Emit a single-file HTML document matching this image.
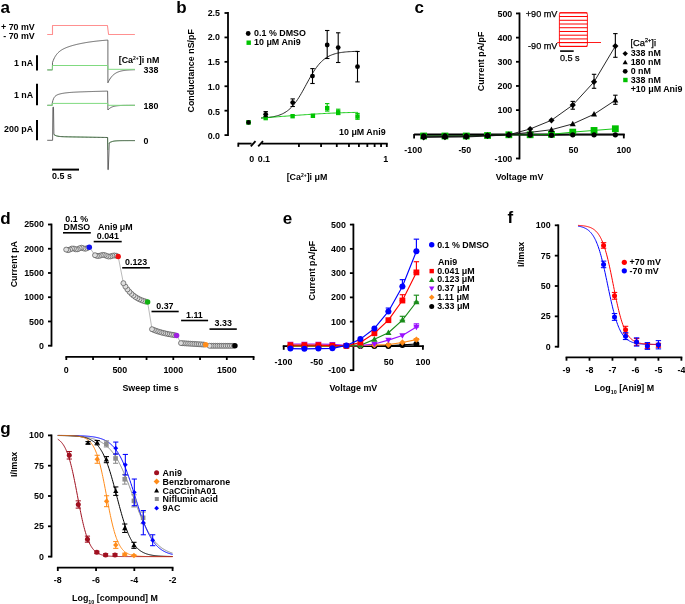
<!DOCTYPE html>
<html><head><meta charset="utf-8"><style>
html,body{margin:0;padding:0;background:#fff;}
svg{display:block;will-change:transform;}
text{font-family:"Liberation Sans", sans-serif;}
</style></head><body>
<svg width="685" height="604" viewBox="0 0 685 604">
<rect width="685" height="604" fill="#fff"/>
<text x="0.50" y="12.60" font-size="17" font-weight="bold" text-anchor="start" fill="#000" >a</text>
<text x="34.80" y="29.80" font-size="8.9" font-weight="bold" text-anchor="end" fill="#000" >+ 70 mV</text>
<text x="34.80" y="38.70" font-size="8.9" font-weight="bold" text-anchor="end" fill="#000" >- 70 mV</text>
<polyline points="47.20,34.50 52.50,34.50 52.50,25.50 107.40,25.50 108.60,34.50 134.90,34.50" fill="none" stroke="#ff9090" stroke-width="1.1" stroke-linejoin="round" />
<line x1="37.00" y1="55.20" x2="37.00" y2="70.50" stroke="#000" stroke-width="2" stroke-linecap="butt"/>
<line x1="37.00" y1="83.80" x2="37.00" y2="105.30" stroke="#000" stroke-width="2" stroke-linecap="butt"/>
<line x1="37.00" y1="119.90" x2="37.00" y2="140.20" stroke="#000" stroke-width="2" stroke-linecap="butt"/>
<line x1="52.10" y1="169.60" x2="79.00" y2="169.60" stroke="#000" stroke-width="2" stroke-linecap="butt"/>
<text x="33.20" y="66.20" font-size="8.9" font-weight="bold" text-anchor="end" fill="#000" >1 nA</text>
<text x="33.20" y="97.70" font-size="8.9" font-weight="bold" text-anchor="end" fill="#000" >1 nA</text>
<text x="33.20" y="132.40" font-size="8.9" font-weight="bold" text-anchor="end" fill="#000" >200 pA</text>
<text x="52.10" y="179.40" font-size="8.9" font-weight="bold" text-anchor="start" fill="#000" >0.5 s</text>
<text x="118.70" y="63.40" font-size="8.9" font-weight="bold" text-anchor="start" fill="#000" >[Ca<tspan font-size="5" dy="-3">2+</tspan><tspan dy="3">]i nM</tspan></text>
<text x="143.60" y="73.10" font-size="8.9" font-weight="bold" text-anchor="start" fill="#000" >338</text>
<text x="143.60" y="109.00" font-size="8.9" font-weight="bold" text-anchor="start" fill="#000" >180</text>
<text x="143.60" y="144.20" font-size="8.9" font-weight="bold" text-anchor="start" fill="#000" >0</text>
<polyline points="47.30,69.90 52.40,69.90 52.50,62.45 53.19,60.61 53.87,59.01 54.56,57.62 55.24,56.41 55.93,55.35 56.62,54.41 57.30,53.58 57.99,52.84 58.68,52.18 59.36,51.58 60.05,51.04 60.73,50.54 61.42,50.08 62.11,49.66 62.79,49.27 63.48,48.91 64.17,48.57 64.85,48.25 65.54,47.95 66.22,47.66 66.91,47.39 67.60,47.12 68.28,46.88 68.97,46.64 69.66,46.41 70.34,46.18 71.03,45.97 71.72,45.76 72.40,45.56 73.09,45.37 73.77,45.18 74.46,45.00 75.15,44.82 75.83,44.65 76.52,44.48 77.20,44.32 77.89,44.16 78.58,44.01 79.26,43.86 79.95,43.71 80.64,43.57 81.32,43.43 82.01,43.30 82.70,43.17 83.38,43.04 84.07,42.91 84.75,42.79 85.44,42.67 86.13,42.56 86.81,42.45 87.50,42.34 88.19,42.23 88.87,42.12 89.56,42.02 90.24,41.92 90.93,41.83 91.62,41.73 92.30,41.64 92.99,41.55 93.68,41.46 94.36,41.38 95.05,41.29 95.73,41.21 96.42,41.13 97.11,41.06 97.79,40.98 98.48,40.91 99.17,40.83 99.85,40.76 100.54,40.70 101.22,40.63 101.91,40.56 102.60,40.50 103.28,40.44 103.97,40.38 104.66,40.32 105.34,40.26 106.03,40.21 106.71,40.15 107.40,40.10 107.90,40.10 107.90,82.80 108.58,81.38 109.26,80.12 109.93,78.99 110.61,77.98 111.29,77.08 111.97,76.28 112.64,75.56 113.32,74.92 114.00,74.35 114.68,73.84 115.35,73.38 116.03,72.98 116.71,72.61 117.39,72.29 118.06,72.00 118.74,71.74 119.42,71.51 120.09,71.31 120.77,71.12 121.45,70.96 122.13,70.81 122.81,70.68 123.48,70.57 124.16,70.46 124.84,70.37 125.52,70.29 126.19,70.21 126.87,70.15 127.55,70.09 128.22,70.04 128.90,69.99 129.58,69.95 130.26,69.91 130.94,69.88 131.61,69.85 132.29,69.82 132.97,69.80 133.65,69.78 134.32,69.76 135.00,69.74" fill="none" stroke="#444" stroke-width="0.8" stroke-linejoin="round" />
<polyline points="47.30,69.90 52.40,69.90 52.40,65.50 107.80,65.50 107.80,69.30 135.00,69.30" fill="none" stroke="#80da80" stroke-width="1.0" stroke-linejoin="round" />
<polyline points="47.30,105.30 52.20,105.30 52.20,103.30 52.89,100.47 53.58,98.60 54.27,97.35 54.96,96.48 55.64,95.84 56.33,95.37 57.02,94.99 57.71,94.68 58.40,94.42 59.09,94.20 59.78,94.00 60.47,93.82 61.15,93.67 61.84,93.52 62.53,93.39 63.22,93.27 63.91,93.16 64.60,93.06 65.29,92.96 65.97,92.88 66.66,92.80 67.35,92.72 68.04,92.65 68.73,92.59 69.42,92.53 70.11,92.47 70.80,92.42 71.48,92.37 72.17,92.32 72.86,92.28 73.55,92.23 74.24,92.19 74.93,92.16 75.62,92.12 76.31,92.08 77.00,92.05 77.68,92.02 78.37,91.99 79.06,91.96 79.75,91.93 80.44,91.90 81.13,91.88 81.82,91.85 82.50,91.83 83.19,91.80 83.88,91.78 84.57,91.76 85.26,91.73 85.95,91.71 86.64,91.69 87.33,91.67 88.02,91.64 88.70,91.62 89.39,91.60 90.08,91.58 90.77,91.56 91.46,91.54 92.15,91.52 92.84,91.50 93.53,91.48 94.21,91.46 94.90,91.44 95.59,91.42 96.28,91.40 96.97,91.38 97.66,91.36 98.35,91.35 99.03,91.33 99.72,91.31 100.41,91.29 101.10,91.27 101.79,91.25 102.48,91.23 103.17,91.21 103.86,91.20 104.54,91.18 105.23,91.16 105.92,91.14 106.61,91.12 107.30,91.10 107.60,91.10 107.90,110.00 108.58,109.28 109.26,108.67 109.93,108.15 110.61,107.71 111.29,107.34 111.97,107.03 112.64,106.76 113.32,106.54 114.00,106.35 114.68,106.19 115.35,106.05 116.03,105.94 116.71,105.84 117.39,105.76 118.06,105.69 118.74,105.63 119.42,105.58 120.09,105.53 120.77,105.50 121.45,105.47 122.13,105.44 122.81,105.42 123.48,105.40 124.16,105.39 124.84,105.37 125.52,105.36 126.19,105.35 126.87,105.34 127.55,105.34 128.22,105.33 128.90,105.33 129.58,105.32 130.26,105.32 130.94,105.32 131.61,105.31 132.29,105.31 132.97,105.31 133.65,105.31 134.32,105.31 135.00,105.31" fill="none" stroke="#444" stroke-width="0.8" stroke-linejoin="round" />
<polyline points="47.30,105.30 52.40,105.30 52.40,103.40 107.80,103.40 107.80,105.30 135.00,105.30" fill="none" stroke="#80da80" stroke-width="1.0" stroke-linejoin="round" />
<polyline points="53.90,134.50 55.23,135.35 56.56,135.87 57.89,136.20 59.22,136.41 60.55,136.54 61.88,136.63 63.21,136.69 64.54,136.74 65.87,136.78 67.20,136.81 68.53,136.84 69.86,136.86 71.19,136.89 72.52,136.91 73.85,136.94 75.18,136.96 76.51,136.98 77.84,137.00 79.17,137.03 80.50,137.05 81.83,137.07 83.16,137.09 84.49,137.12 85.82,137.14 87.15,137.16 88.48,137.18 89.81,137.21 91.14,137.23 92.47,137.25 93.80,137.27 95.13,137.30 96.46,137.32 97.79,137.34 99.12,137.36 100.45,137.39 101.78,137.41 103.11,137.43 104.44,137.45 105.77,137.48 107.10,137.50 107.60,137.50 107.90,150.00" fill="none" stroke="#80da80" stroke-width="1.0" stroke-linejoin="round" />
<polyline points="108.60,143.50 109.26,142.95 109.92,142.51 110.58,142.15 111.24,141.86 111.90,141.62 112.56,141.43 113.22,141.27 113.88,141.15 114.54,141.04 115.20,140.96 115.86,140.89 116.52,140.84 117.18,140.79 117.84,140.76 118.50,140.73 119.16,140.70 119.82,140.68 120.48,140.67 121.14,140.66 121.80,140.64 122.46,140.64 123.12,140.63 123.78,140.62 124.44,140.62 125.10,140.62 125.76,140.61 126.42,140.61 127.08,140.61 127.74,140.61 128.40,140.61 129.06,140.60 129.72,140.60 130.38,140.60 131.04,140.60 131.70,140.60 132.36,140.60 133.02,140.60 133.68,140.60 134.34,140.60 135.00,140.60" fill="none" stroke="#80da80" stroke-width="1.0" stroke-linejoin="round" />
<polyline points="47.20,140.30 52.60,140.30 52.90,107.20 53.50,107.20 53.90,134.50 55.23,135.35 56.56,135.87 57.89,136.20 59.22,136.41 60.55,136.54 61.88,136.63 63.21,136.69 64.54,136.74 65.87,136.78 67.20,136.81 68.53,136.84 69.86,136.86 71.19,136.89 72.52,136.91 73.85,136.94 75.18,136.96 76.51,136.98 77.84,137.00 79.17,137.03 80.50,137.05 81.83,137.07 83.16,137.09 84.49,137.12 85.82,137.14 87.15,137.16 88.48,137.18 89.81,137.21 91.14,137.23 92.47,137.25 93.80,137.27 95.13,137.30 96.46,137.32 97.79,137.34 99.12,137.36 100.45,137.39 101.78,137.41 103.11,137.43 104.44,137.45 105.77,137.48 107.10,137.50 107.60,137.50 107.90,169.60 108.30,169.60 109.26,142.95 109.92,142.51 110.58,142.15 111.24,141.86 111.90,141.62 112.56,141.43 113.22,141.27 113.88,141.15 114.54,141.04 115.20,140.96 115.86,140.89 116.52,140.84 117.18,140.79 117.84,140.76 118.50,140.73 119.16,140.70 119.82,140.68 120.48,140.67 121.14,140.66 121.80,140.64 122.46,140.64 123.12,140.63 123.78,140.62 124.44,140.62 125.10,140.62 125.76,140.61 126.42,140.61 127.08,140.61 127.74,140.61 128.40,140.61 129.06,140.60 129.72,140.60 130.38,140.60 131.04,140.60 131.70,140.60 132.36,140.60 133.02,140.60 133.68,140.60 134.34,140.60 135.00,140.60" fill="none" stroke="#444" stroke-width="0.8" stroke-linejoin="round" />
<text x="176.30" y="12.60" font-size="17" font-weight="bold" text-anchor="start" fill="#000" >b</text>
<line x1="228.00" y1="12.00" x2="228.00" y2="136.00" stroke="#000" stroke-width="1.8" stroke-linecap="butt"/>
<line x1="224.50" y1="135.10" x2="228.00" y2="135.10" stroke="#000" stroke-width="1.8" stroke-linecap="butt"/>
<text x="220.00" y="139.30" font-size="8.9" font-weight="bold" text-anchor="end" fill="#000" >0.0</text>
<line x1="224.50" y1="110.68" x2="228.00" y2="110.68" stroke="#000" stroke-width="1.8" stroke-linecap="butt"/>
<text x="220.00" y="114.56" font-size="8.9" font-weight="bold" text-anchor="end" fill="#000" >0.5</text>
<line x1="224.50" y1="86.26" x2="228.00" y2="86.26" stroke="#000" stroke-width="1.8" stroke-linecap="butt"/>
<text x="220.00" y="89.82" font-size="8.9" font-weight="bold" text-anchor="end" fill="#000" >1.0</text>
<line x1="224.50" y1="61.84" x2="228.00" y2="61.84" stroke="#000" stroke-width="1.8" stroke-linecap="butt"/>
<text x="220.00" y="65.08" font-size="8.9" font-weight="bold" text-anchor="end" fill="#000" >1.5</text>
<line x1="224.50" y1="37.42" x2="228.00" y2="37.42" stroke="#000" stroke-width="1.8" stroke-linecap="butt"/>
<text x="220.00" y="40.34" font-size="8.9" font-weight="bold" text-anchor="end" fill="#000" >2.0</text>
<line x1="224.50" y1="13.00" x2="228.00" y2="13.00" stroke="#000" stroke-width="1.8" stroke-linecap="butt"/>
<text x="220.00" y="15.60" font-size="8.9" font-weight="bold" text-anchor="end" fill="#000" >2.5</text>
<text transform="translate(194.00,70.80) rotate(-90)" font-size="8.9" font-weight="bold" text-anchor="middle" fill="#000">Conductance nS/pF</text>
<line x1="238.30" y1="143.60" x2="251.60" y2="143.60" stroke="#000" stroke-width="1.8" stroke-linecap="butt"/>
<line x1="238.30" y1="142.70" x2="238.30" y2="146.80" stroke="#000" stroke-width="1.8" stroke-linecap="butt"/>
<line x1="250.80" y1="146.40" x2="255.50" y2="141.20" stroke="#000" stroke-width="1.8" stroke-linecap="butt"/>
<line x1="258.20" y1="146.40" x2="263.00" y2="141.20" stroke="#000" stroke-width="1.8" stroke-linecap="butt"/>
<line x1="261.50" y1="143.60" x2="387.70" y2="143.60" stroke="#000" stroke-width="1.8" stroke-linecap="butt"/>
<line x1="298.94" y1="143.60" x2="298.94" y2="147.00" stroke="#000" stroke-width="1.8" stroke-linecap="butt"/>
<line x1="321.07" y1="143.60" x2="321.07" y2="147.00" stroke="#000" stroke-width="1.8" stroke-linecap="butt"/>
<line x1="336.78" y1="143.60" x2="336.78" y2="147.00" stroke="#000" stroke-width="1.8" stroke-linecap="butt"/>
<line x1="348.96" y1="143.60" x2="348.96" y2="147.00" stroke="#000" stroke-width="1.8" stroke-linecap="butt"/>
<line x1="358.91" y1="143.60" x2="358.91" y2="147.00" stroke="#000" stroke-width="1.8" stroke-linecap="butt"/>
<line x1="367.33" y1="143.60" x2="367.33" y2="147.00" stroke="#000" stroke-width="1.8" stroke-linecap="butt"/>
<line x1="374.62" y1="143.60" x2="374.62" y2="147.00" stroke="#000" stroke-width="1.8" stroke-linecap="butt"/>
<line x1="381.05" y1="143.60" x2="381.05" y2="147.00" stroke="#000" stroke-width="1.8" stroke-linecap="butt"/>
<line x1="386.80" y1="143.60" x2="386.80" y2="147.00" stroke="#000" stroke-width="1.8" stroke-linecap="butt"/>
<text x="251.80" y="161.80" font-size="8.9" font-weight="bold" text-anchor="middle" fill="#000" >0</text>
<text x="263.90" y="161.80" font-size="8.9" font-weight="bold" text-anchor="middle" fill="#000" >0.1</text>
<text x="385.60" y="161.80" font-size="8.9" font-weight="bold" text-anchor="middle" fill="#000" >1</text>
<text x="307.00" y="180.40" font-size="8.9" font-weight="bold" text-anchor="middle" fill="#000" >[Ca<tspan font-size="5" dy="-3">2+</tspan><tspan dy="3">]i μM</tspan></text>
<text x="385.60" y="135.30" font-size="8.9" font-weight="bold" text-anchor="end" fill="#000" >10 μM Ani9</text>
<circle cx="248.20" cy="33.50" r="2.4" fill="#000" stroke="none" stroke-width="0"/>
<text x="254.10" y="36.40" font-size="8.9" font-weight="bold" text-anchor="start" fill="#000" >0.1 % DMSO</text>
<rect x="246.50" y="40.50" width="4.4" height="4.4" fill="#00c400"/>
<text x="254.10" y="45.40" font-size="8.9" font-weight="bold" text-anchor="start" fill="#000" >10 μM Ani9</text>
<polyline points="261.10,118.02 262.36,117.95 263.61,117.87 264.87,117.78 266.13,117.67 267.38,117.55 268.64,117.41 269.90,117.26 271.16,117.08 272.41,116.87 273.67,116.64 274.93,116.37 276.18,116.07 277.44,115.72 278.70,115.33 279.96,114.89 281.21,114.39 282.47,113.82 283.73,113.18 284.98,112.46 286.24,111.66 287.50,110.77 288.75,109.77 290.01,108.66 291.27,107.45 292.53,106.11 293.78,104.65 295.04,103.07 296.30,101.37 297.55,99.54 298.81,97.60 300.07,95.56 301.32,93.43 302.58,91.22 303.84,88.95 305.10,86.64 306.35,84.31 307.61,81.99 308.87,79.70 310.12,77.45 311.38,75.27 312.64,73.17 313.89,71.17 315.15,69.28 316.41,67.50 317.67,65.85 318.92,64.32 320.18,62.91 321.44,61.63 322.69,60.46 323.95,59.40 325.21,58.44 326.46,57.59 327.72,56.82 328.98,56.14 330.24,55.53 331.49,54.99 332.75,54.51 334.01,54.09 335.26,53.72 336.52,53.39 337.78,53.10 339.03,52.85 340.29,52.63 341.55,52.44 342.81,52.27 344.06,52.12 345.32,51.99 346.58,51.87 347.83,51.77 349.09,51.69 350.35,51.61 351.60,51.55 352.86,51.49 354.12,51.44 355.38,51.39 356.63,51.35 357.89,51.32" fill="none" stroke="#111" stroke-width="0.9" stroke-linejoin="round" />
<polyline points="261.10,118.01 262.36,117.92 263.61,117.82 264.87,117.73 266.13,117.64 267.38,117.55 268.64,117.45 269.90,117.36 271.16,117.27 272.41,117.17 273.67,117.08 274.93,116.98 276.18,116.89 277.44,116.79 278.70,116.69 279.96,116.60 281.21,116.50 282.47,116.40 283.73,116.31 284.98,116.21 286.24,116.11 287.50,116.02 288.75,115.92 290.01,115.82 291.27,115.73 292.53,115.63 293.78,115.54 295.04,115.44 296.30,115.35 297.55,115.26 298.81,115.16 300.07,115.07 301.32,114.98 302.58,114.89 303.84,114.80 305.10,114.71 306.35,114.62 307.61,114.54 308.87,114.45 310.12,114.37 311.38,114.28 312.64,114.20 313.89,114.12 315.15,114.04 316.41,113.97 317.67,113.89 318.92,113.81 320.18,113.74 321.44,113.67 322.69,113.60 323.95,113.53 325.21,113.47 326.46,113.40 327.72,113.34 328.98,113.28 330.24,113.22 331.49,113.16 332.75,113.10 334.01,113.05 335.26,113.00 336.52,112.95 337.78,112.90 339.03,112.85 340.29,112.81 341.55,112.77 342.81,112.73 344.06,112.69 345.32,112.65 346.58,112.61 347.83,112.58 349.09,112.55 350.35,112.52 351.60,112.49 352.86,112.46 354.12,112.44 355.38,112.41 356.63,112.39 357.89,112.37" fill="none" stroke="#00c400" stroke-width="0.9" stroke-linejoin="round" />
<rect x="263.50" y="115.90" width="4.4" height="4.4" fill="#00c400"/>
<rect x="290.40" y="114.00" width="4.4" height="4.4" fill="#00c400"/>
<rect x="310.70" y="113.60" width="4.4" height="4.4" fill="#00c400"/>
<line x1="327.20" y1="103.60" x2="327.20" y2="111.10" stroke="#00c400" stroke-width="1.1" stroke-linecap="butt"/>
<line x1="325.00" y1="103.60" x2="329.40" y2="103.60" stroke="#00c400" stroke-width="1.1" stroke-linecap="butt"/>
<line x1="325.00" y1="111.10" x2="329.40" y2="111.10" stroke="#00c400" stroke-width="1.1" stroke-linecap="butt"/>
<rect x="325.00" y="105.90" width="4.4" height="4.4" fill="#00c400"/>
<line x1="338.20" y1="109.20" x2="338.20" y2="114.60" stroke="#00c400" stroke-width="1.1" stroke-linecap="butt"/>
<line x1="336.00" y1="109.20" x2="340.40" y2="109.20" stroke="#00c400" stroke-width="1.1" stroke-linecap="butt"/>
<line x1="336.00" y1="114.60" x2="340.40" y2="114.60" stroke="#00c400" stroke-width="1.1" stroke-linecap="butt"/>
<rect x="336.00" y="110.10" width="4.4" height="4.4" fill="#00c400"/>
<line x1="357.50" y1="113.40" x2="357.50" y2="119.30" stroke="#00c400" stroke-width="1.1" stroke-linecap="butt"/>
<line x1="355.30" y1="113.40" x2="359.70" y2="113.40" stroke="#00c400" stroke-width="1.1" stroke-linecap="butt"/>
<line x1="355.30" y1="119.30" x2="359.70" y2="119.30" stroke="#00c400" stroke-width="1.1" stroke-linecap="butt"/>
<rect x="355.30" y="114.30" width="4.4" height="4.4" fill="#00c400"/>
<line x1="265.70" y1="111.60" x2="265.70" y2="116.70" stroke="#000" stroke-width="1.1" stroke-linecap="butt"/>
<line x1="263.50" y1="111.60" x2="267.90" y2="111.60" stroke="#000" stroke-width="1.1" stroke-linecap="butt"/>
<line x1="263.50" y1="116.70" x2="267.90" y2="116.70" stroke="#000" stroke-width="1.1" stroke-linecap="butt"/>
<circle cx="265.70" cy="114.30" r="2.4" fill="#000" stroke="none" stroke-width="0"/>
<line x1="292.70" y1="98.90" x2="292.70" y2="106.50" stroke="#000" stroke-width="1.1" stroke-linecap="butt"/>
<line x1="290.50" y1="98.90" x2="294.90" y2="98.90" stroke="#000" stroke-width="1.1" stroke-linecap="butt"/>
<line x1="290.50" y1="106.50" x2="294.90" y2="106.50" stroke="#000" stroke-width="1.1" stroke-linecap="butt"/>
<circle cx="292.70" cy="102.60" r="2.4" fill="#000" stroke="none" stroke-width="0"/>
<line x1="312.50" y1="68.60" x2="312.50" y2="83.50" stroke="#000" stroke-width="1.1" stroke-linecap="butt"/>
<line x1="310.30" y1="68.60" x2="314.70" y2="68.60" stroke="#000" stroke-width="1.1" stroke-linecap="butt"/>
<line x1="310.30" y1="83.50" x2="314.70" y2="83.50" stroke="#000" stroke-width="1.1" stroke-linecap="butt"/>
<circle cx="312.50" cy="76.10" r="2.4" fill="#000" stroke="none" stroke-width="0"/>
<line x1="327.20" y1="30.50" x2="327.20" y2="58.50" stroke="#000" stroke-width="1.1" stroke-linecap="butt"/>
<line x1="325.00" y1="30.50" x2="329.40" y2="30.50" stroke="#000" stroke-width="1.1" stroke-linecap="butt"/>
<line x1="325.00" y1="58.50" x2="329.40" y2="58.50" stroke="#000" stroke-width="1.1" stroke-linecap="butt"/>
<circle cx="327.20" cy="45.00" r="2.4" fill="#000" stroke="none" stroke-width="0"/>
<line x1="338.20" y1="32.80" x2="338.20" y2="62.50" stroke="#000" stroke-width="1.1" stroke-linecap="butt"/>
<line x1="336.00" y1="32.80" x2="340.40" y2="32.80" stroke="#000" stroke-width="1.1" stroke-linecap="butt"/>
<line x1="336.00" y1="62.50" x2="340.40" y2="62.50" stroke="#000" stroke-width="1.1" stroke-linecap="butt"/>
<circle cx="338.20" cy="47.60" r="2.4" fill="#000" stroke="none" stroke-width="0"/>
<line x1="357.50" y1="51.50" x2="357.50" y2="81.90" stroke="#000" stroke-width="1.1" stroke-linecap="butt"/>
<line x1="355.30" y1="51.50" x2="359.70" y2="51.50" stroke="#000" stroke-width="1.1" stroke-linecap="butt"/>
<line x1="355.30" y1="81.90" x2="359.70" y2="81.90" stroke="#000" stroke-width="1.1" stroke-linecap="butt"/>
<circle cx="357.50" cy="66.70" r="2.4" fill="#000" stroke="none" stroke-width="0"/>
<rect x="246.20" y="120.10" width="4.6" height="4.6" fill="#00c400"/>
<circle cx="248.50" cy="122.40" r="2.3" fill="#000" stroke="none" stroke-width="0"/>
<text x="414.60" y="13.00" font-size="17" font-weight="bold" text-anchor="start" fill="#000" >c</text>
<line x1="519.50" y1="12.55" x2="519.50" y2="159.37" stroke="#000" stroke-width="1.8" stroke-linecap="butt"/>
<line x1="516.00" y1="13.45" x2="519.50" y2="13.45" stroke="#000" stroke-width="1.8" stroke-linecap="butt"/>
<text x="512.30" y="16.55" font-size="8.9" font-weight="bold" text-anchor="end" fill="#000" >500</text>
<line x1="516.00" y1="37.62" x2="519.50" y2="37.62" stroke="#000" stroke-width="1.8" stroke-linecap="butt"/>
<text x="512.30" y="40.72" font-size="8.9" font-weight="bold" text-anchor="end" fill="#000" >400</text>
<line x1="516.00" y1="61.79" x2="519.50" y2="61.79" stroke="#000" stroke-width="1.8" stroke-linecap="butt"/>
<text x="512.30" y="64.89" font-size="8.9" font-weight="bold" text-anchor="end" fill="#000" >300</text>
<line x1="516.00" y1="85.96" x2="519.50" y2="85.96" stroke="#000" stroke-width="1.8" stroke-linecap="butt"/>
<text x="512.30" y="89.06" font-size="8.9" font-weight="bold" text-anchor="end" fill="#000" >200</text>
<line x1="516.00" y1="110.13" x2="519.50" y2="110.13" stroke="#000" stroke-width="1.8" stroke-linecap="butt"/>
<text x="512.30" y="113.23" font-size="8.9" font-weight="bold" text-anchor="end" fill="#000" >100</text>
<line x1="516.00" y1="158.47" x2="519.50" y2="158.47" stroke="#000" stroke-width="1.8" stroke-linecap="butt"/>
<text x="512.30" y="161.57" font-size="8.9" font-weight="bold" text-anchor="end" fill="#000" >-100</text>
<text transform="translate(484.30,61.40) rotate(-90)" font-size="8.9" font-weight="bold" text-anchor="middle" fill="#000">Current pA/pF</text>
<line x1="414.10" y1="134.60" x2="624.70" y2="134.60" stroke="#000" stroke-width="2.0" stroke-linecap="butt"/>
<line x1="414.10" y1="134.00" x2="414.10" y2="138.40" stroke="#000" stroke-width="1.8" stroke-linecap="butt"/>
<line x1="623.80" y1="134.00" x2="623.80" y2="138.40" stroke="#000" stroke-width="1.8" stroke-linecap="butt"/>
<text x="413.20" y="153.20" font-size="8.9" font-weight="bold" text-anchor="middle" fill="#000" >-100</text>
<text x="464.80" y="153.20" font-size="8.9" font-weight="bold" text-anchor="middle" fill="#000" >-50</text>
<text x="573.40" y="153.20" font-size="8.9" font-weight="bold" text-anchor="middle" fill="#000" >50</text>
<text x="623.80" y="153.20" font-size="8.9" font-weight="bold" text-anchor="middle" fill="#000" >100</text>
<text x="519.50" y="179.50" font-size="8.9" font-weight="bold" text-anchor="middle" fill="#000" >Voltage mV</text>
<line x1="559.40" y1="12.80" x2="587.40" y2="12.80" stroke="#ff0000" stroke-width="1.0" stroke-linecap="butt"/>
<line x1="559.40" y1="16.53" x2="587.40" y2="16.53" stroke="#ff0000" stroke-width="1.0" stroke-linecap="butt"/>
<line x1="559.40" y1="20.27" x2="587.40" y2="20.27" stroke="#ff0000" stroke-width="1.0" stroke-linecap="butt"/>
<line x1="559.40" y1="24.00" x2="587.40" y2="24.00" stroke="#ff0000" stroke-width="1.0" stroke-linecap="butt"/>
<line x1="559.40" y1="27.73" x2="587.40" y2="27.73" stroke="#ff0000" stroke-width="1.0" stroke-linecap="butt"/>
<line x1="559.40" y1="31.47" x2="587.40" y2="31.47" stroke="#ff0000" stroke-width="1.0" stroke-linecap="butt"/>
<line x1="559.40" y1="35.20" x2="587.40" y2="35.20" stroke="#ff0000" stroke-width="1.0" stroke-linecap="butt"/>
<line x1="559.40" y1="38.93" x2="587.40" y2="38.93" stroke="#ff0000" stroke-width="1.0" stroke-linecap="butt"/>
<line x1="559.40" y1="42.67" x2="587.40" y2="42.67" stroke="#ff0000" stroke-width="1.0" stroke-linecap="butt"/>
<line x1="559.40" y1="46.40" x2="587.40" y2="46.40" stroke="#ff0000" stroke-width="1.0" stroke-linecap="butt"/>
<rect x="559.4" y="12.8" width="28" height="33.6" rx="1.5" fill="none" stroke="#ff0000" stroke-width="0.9"/>
<line x1="557.20" y1="42.50" x2="601.00" y2="42.50" stroke="#ff0000" stroke-width="0.9" stroke-linecap="butt"/>
<text x="557.40" y="16.60" font-size="9.1" font-weight="normal" text-anchor="end" fill="#000" stroke="#000" stroke-width="0.25">+90 mV</text>
<text x="557.40" y="49.40" font-size="9.1" font-weight="normal" text-anchor="end" fill="#000" stroke="#000" stroke-width="0.25">-90 mV</text>
<line x1="560.10" y1="51.10" x2="573.70" y2="51.10" stroke="#000" stroke-width="1.6" stroke-linecap="butt"/>
<text x="559.90" y="60.60" font-size="9.1" font-weight="normal" text-anchor="start" fill="#000" stroke="#000" stroke-width="0.25">0.5 s</text>
<text x="630.50" y="45.60" font-size="9.3" font-weight="normal" text-anchor="start" fill="#000" stroke="#000" stroke-width="0.25">[Ca<tspan font-size="5.6" dy="-3.2">2+</tspan><tspan dy="3.2">]i</tspan></text>
<polygon points="625.20,50.90 627.90,53.60 625.20,56.30 622.50,53.60" fill="#000"/>
<text x="630.70" y="56.10" font-size="8.9" font-weight="bold" text-anchor="start" fill="#000" >338 nM</text>
<polygon points="625.20,59.67 627.80,64.35 622.60,64.35" fill="#000"/>
<text x="630.70" y="64.80" font-size="8.9" font-weight="bold" text-anchor="start" fill="#000" >180 nM</text>
<circle cx="625.20" cy="71.30" r="2.4" fill="#000" stroke="none" stroke-width="0"/>
<text x="630.70" y="73.70" font-size="8.9" font-weight="bold" text-anchor="start" fill="#000" >0 nM</text>
<rect x="623.20" y="77.80" width="4.4" height="4.4" fill="#00c000"/>
<text x="630.70" y="82.60" font-size="8.9" font-weight="bold" text-anchor="start" fill="#000" >338 nM</text>
<text x="630.70" y="91.60" font-size="8.9" font-weight="bold" text-anchor="start" fill="#000" >+10 μM Ani9</text>
<polyline points="423.65,135.99 444.95,135.99 466.25,135.99 487.55,135.51 508.85,134.78 530.15,134.78 551.45,134.30 572.75,132.12 594.05,130.43 615.35,128.74" fill="none" stroke="#00c000" stroke-width="0.9" stroke-linejoin="round" />
<rect x="420.25" y="132.59" width="6.8" height="6.8" fill="#00c000"/>
<rect x="441.55" y="132.59" width="6.8" height="6.8" fill="#00c000"/>
<rect x="462.85" y="132.59" width="6.8" height="6.8" fill="#00c000"/>
<rect x="484.15" y="132.11" width="6.8" height="6.8" fill="#00c000"/>
<rect x="505.45" y="131.38" width="6.8" height="6.8" fill="#00c000"/>
<rect x="526.75" y="131.38" width="6.8" height="6.8" fill="#00c000"/>
<rect x="548.05" y="130.90" width="6.8" height="6.8" fill="#00c000"/>
<rect x="569.35" y="128.72" width="6.8" height="6.8" fill="#00c000"/>
<rect x="590.65" y="127.03" width="6.8" height="6.8" fill="#00c000"/>
<rect x="611.95" y="125.34" width="6.8" height="6.8" fill="#00c000"/>
<polyline points="423.65,135.99 444.95,135.99 466.25,135.99 487.55,135.51 508.85,134.78 530.15,135.03 551.45,135.27 572.75,134.78 594.05,134.78 615.35,134.78" fill="none" stroke="#111" stroke-width="0.9" stroke-linejoin="round" />
<polyline points="423.65,136.72 444.95,136.48 466.25,136.23 487.55,135.51 508.85,134.54 530.15,132.37 551.45,129.71 572.75,123.91 594.05,114.24 615.35,100.22" fill="none" stroke="#111" stroke-width="0.9" stroke-linejoin="round" />
<polyline points="423.65,137.44 444.95,137.20 466.25,136.96 487.55,135.99 508.85,134.78 530.15,128.98 551.45,120.28 572.75,105.05 594.05,81.85 615.35,46.08" fill="none" stroke="#111" stroke-width="0.9" stroke-linejoin="round" />
<circle cx="423.65" cy="135.99" r="2.65" fill="#000" stroke="none" stroke-width="0"/>
<circle cx="444.95" cy="135.99" r="2.65" fill="#000" stroke="none" stroke-width="0"/>
<circle cx="466.25" cy="135.99" r="2.65" fill="#000" stroke="none" stroke-width="0"/>
<circle cx="487.55" cy="135.51" r="2.65" fill="#000" stroke="none" stroke-width="0"/>
<circle cx="508.85" cy="134.78" r="2.65" fill="#000" stroke="none" stroke-width="0"/>
<circle cx="530.15" cy="135.03" r="2.65" fill="#000" stroke="none" stroke-width="0"/>
<circle cx="551.45" cy="135.27" r="2.65" fill="#000" stroke="none" stroke-width="0"/>
<circle cx="572.75" cy="134.78" r="2.65" fill="#000" stroke="none" stroke-width="0"/>
<circle cx="594.05" cy="134.78" r="2.65" fill="#000" stroke="none" stroke-width="0"/>
<circle cx="615.35" cy="134.78" r="2.65" fill="#000" stroke="none" stroke-width="0"/>
<polygon points="423.65,133.57 426.65,138.97 420.65,138.97" fill="#000"/>
<polygon points="444.95,133.33 447.95,138.73 441.95,138.73" fill="#000"/>
<polygon points="466.25,133.08 469.25,138.48 463.25,138.48" fill="#000"/>
<polygon points="487.55,132.36 490.55,137.76 484.55,137.76" fill="#000"/>
<polygon points="508.85,131.39 511.85,136.79 505.85,136.79" fill="#000"/>
<polygon points="530.15,129.22 533.15,134.62 527.15,134.62" fill="#000"/>
<polygon points="551.45,126.56 554.45,131.96 548.45,131.96" fill="#000"/>
<polygon points="572.75,120.76 575.75,126.16 569.75,126.16" fill="#000"/>
<polygon points="594.05,111.09 597.05,116.49 591.05,116.49" fill="#000"/>
<polygon points="615.35,97.07 618.35,102.47 612.35,102.47" fill="#000"/>
<polygon points="423.65,134.34 426.75,137.44 423.65,140.54 420.55,137.44" fill="#000"/>
<polygon points="444.95,134.10 448.05,137.20 444.95,140.30 441.85,137.20" fill="#000"/>
<polygon points="466.25,133.86 469.35,136.96 466.25,140.06 463.15,136.96" fill="#000"/>
<polygon points="487.55,132.89 490.65,135.99 487.55,139.09 484.45,135.99" fill="#000"/>
<polygon points="508.85,131.68 511.95,134.78 508.85,137.88 505.75,134.78" fill="#000"/>
<polygon points="530.15,125.88 533.25,128.98 530.15,132.08 527.05,128.98" fill="#000"/>
<polygon points="551.45,117.18 554.55,120.28 551.45,123.38 548.35,120.28" fill="#000"/>
<polygon points="572.75,101.95 575.85,105.05 572.75,108.15 569.65,105.05" fill="#000"/>
<polygon points="594.05,78.75 597.15,81.85 594.05,84.95 590.95,81.85" fill="#000"/>
<polygon points="615.35,42.98 618.45,46.08 615.35,49.18 612.25,46.08" fill="#000"/>
<line x1="615.35" y1="33.60" x2="615.35" y2="57.30" stroke="#000" stroke-width="1.1" stroke-linecap="butt"/>
<line x1="613.15" y1="33.60" x2="617.55" y2="33.60" stroke="#000" stroke-width="1.1" stroke-linecap="butt"/>
<line x1="613.15" y1="57.30" x2="617.55" y2="57.30" stroke="#000" stroke-width="1.1" stroke-linecap="butt"/>
<line x1="594.05" y1="74.30" x2="594.05" y2="88.30" stroke="#000" stroke-width="1.1" stroke-linecap="butt"/>
<line x1="591.85" y1="74.30" x2="596.25" y2="74.30" stroke="#000" stroke-width="1.1" stroke-linecap="butt"/>
<line x1="591.85" y1="88.30" x2="596.25" y2="88.30" stroke="#000" stroke-width="1.1" stroke-linecap="butt"/>
<line x1="572.75" y1="101.40" x2="572.75" y2="109.20" stroke="#000" stroke-width="1.1" stroke-linecap="butt"/>
<line x1="570.55" y1="101.40" x2="574.95" y2="101.40" stroke="#000" stroke-width="1.1" stroke-linecap="butt"/>
<line x1="570.55" y1="109.20" x2="574.95" y2="109.20" stroke="#000" stroke-width="1.1" stroke-linecap="butt"/>
<line x1="615.35" y1="95.20" x2="615.35" y2="104.30" stroke="#000" stroke-width="1.1" stroke-linecap="butt"/>
<line x1="613.15" y1="95.20" x2="617.55" y2="95.20" stroke="#000" stroke-width="1.1" stroke-linecap="butt"/>
<line x1="613.15" y1="104.30" x2="617.55" y2="104.30" stroke="#000" stroke-width="1.1" stroke-linecap="butt"/>
<text x="0.20" y="223.80" font-size="17" font-weight="bold" text-anchor="start" fill="#000" >d</text>
<line x1="51.50" y1="223.60" x2="51.50" y2="346.60" stroke="#000" stroke-width="1.8" stroke-linecap="butt"/>
<line x1="48.00" y1="345.70" x2="51.50" y2="345.70" stroke="#000" stroke-width="1.8" stroke-linecap="butt"/>
<text x="43.90" y="349.20" font-size="8.9" font-weight="bold" text-anchor="end" fill="#000" >0</text>
<line x1="48.00" y1="321.46" x2="51.50" y2="321.46" stroke="#000" stroke-width="1.8" stroke-linecap="butt"/>
<text x="43.90" y="324.80" font-size="8.9" font-weight="bold" text-anchor="end" fill="#000" >500</text>
<line x1="48.00" y1="297.22" x2="51.50" y2="297.22" stroke="#000" stroke-width="1.8" stroke-linecap="butt"/>
<text x="43.90" y="300.40" font-size="8.9" font-weight="bold" text-anchor="end" fill="#000" >1000</text>
<line x1="48.00" y1="272.98" x2="51.50" y2="272.98" stroke="#000" stroke-width="1.8" stroke-linecap="butt"/>
<text x="43.90" y="276.00" font-size="8.9" font-weight="bold" text-anchor="end" fill="#000" >1500</text>
<line x1="48.00" y1="248.74" x2="51.50" y2="248.74" stroke="#000" stroke-width="1.8" stroke-linecap="butt"/>
<text x="43.90" y="251.60" font-size="8.9" font-weight="bold" text-anchor="end" fill="#000" >2000</text>
<line x1="48.00" y1="224.50" x2="51.50" y2="224.50" stroke="#000" stroke-width="1.8" stroke-linecap="butt"/>
<text x="43.90" y="227.20" font-size="8.9" font-weight="bold" text-anchor="end" fill="#000" >2500</text>
<text transform="translate(17.40,264.20) rotate(-90)" font-size="8.9" font-weight="bold" text-anchor="middle" fill="#000">Current pA</text>
<line x1="65.40" y1="356.80" x2="254.45" y2="356.80" stroke="#000" stroke-width="1.8" stroke-linecap="butt"/>
<line x1="66.30" y1="356.80" x2="66.30" y2="360.00" stroke="#000" stroke-width="1.8" stroke-linecap="butt"/>
<line x1="93.05" y1="356.80" x2="93.05" y2="360.00" stroke="#000" stroke-width="1.8" stroke-linecap="butt"/>
<line x1="119.80" y1="356.80" x2="119.80" y2="360.00" stroke="#000" stroke-width="1.8" stroke-linecap="butt"/>
<line x1="146.55" y1="356.80" x2="146.55" y2="360.00" stroke="#000" stroke-width="1.8" stroke-linecap="butt"/>
<line x1="173.30" y1="356.80" x2="173.30" y2="360.00" stroke="#000" stroke-width="1.8" stroke-linecap="butt"/>
<line x1="200.05" y1="356.80" x2="200.05" y2="360.00" stroke="#000" stroke-width="1.8" stroke-linecap="butt"/>
<line x1="226.80" y1="356.80" x2="226.80" y2="360.00" stroke="#000" stroke-width="1.8" stroke-linecap="butt"/>
<line x1="253.55" y1="356.80" x2="253.55" y2="360.00" stroke="#000" stroke-width="1.8" stroke-linecap="butt"/>
<text x="66.30" y="373.00" font-size="8.9" font-weight="bold" text-anchor="middle" fill="#000" >0</text>
<text x="119.80" y="373.00" font-size="8.9" font-weight="bold" text-anchor="middle" fill="#000" >500</text>
<text x="173.30" y="373.00" font-size="8.9" font-weight="bold" text-anchor="middle" fill="#000" >1000</text>
<text x="226.80" y="373.00" font-size="8.9" font-weight="bold" text-anchor="middle" fill="#000" >1500</text>
<text x="150.50" y="391.20" font-size="8.9" font-weight="bold" text-anchor="middle" fill="#000" >Sweep time s</text>
<text x="76.70" y="221.50" font-size="8.9" font-weight="bold" text-anchor="middle" fill="#000" >0.1 %</text>
<text x="76.90" y="229.80" font-size="8.9" font-weight="bold" text-anchor="middle" fill="#000" >DMSO</text>
<line x1="63.00" y1="232.80" x2="90.80" y2="232.80" stroke="#000" stroke-width="1.6" stroke-linecap="butt"/>
<text x="98.10" y="229.90" font-size="8.9" font-weight="bold" text-anchor="start" fill="#000" >Ani9 μM</text>
<text x="107.90" y="238.80" font-size="8.9" font-weight="bold" text-anchor="middle" fill="#000" >0.041</text>
<line x1="93.70" y1="241.60" x2="121.70" y2="241.60" stroke="#000" stroke-width="1.6" stroke-linecap="butt"/>
<text x="136.10" y="264.60" font-size="8.9" font-weight="bold" text-anchor="middle" fill="#000" >0.123</text>
<line x1="122.20" y1="267.80" x2="149.90" y2="267.80" stroke="#000" stroke-width="1.6" stroke-linecap="butt"/>
<text x="164.90" y="308.50" font-size="8.9" font-weight="bold" text-anchor="middle" fill="#000" >0.37</text>
<line x1="151.50" y1="311.50" x2="178.70" y2="311.50" stroke="#000" stroke-width="1.6" stroke-linecap="butt"/>
<text x="194.40" y="318.00" font-size="8.9" font-weight="bold" text-anchor="middle" fill="#000" >1.11</text>
<line x1="181.10" y1="320.50" x2="208.10" y2="320.50" stroke="#000" stroke-width="1.6" stroke-linecap="butt"/>
<text x="223.20" y="326.40" font-size="8.9" font-weight="bold" text-anchor="middle" fill="#000" >3.33</text>
<line x1="209.50" y1="329.10" x2="236.80" y2="329.10" stroke="#000" stroke-width="1.6" stroke-linecap="butt"/>
<polyline points="66.20,249.60 68.12,250.14 70.05,249.51 71.97,248.52 73.90,248.60 75.83,249.35 77.75,249.26 79.67,248.22 81.60,247.74 83.53,248.38 85.45,248.80 87.38,248.04 89.30,247.13 95.00,255.20 96.93,255.91 98.87,255.96 100.80,255.40 102.73,254.92 104.67,255.12 106.60,255.90 108.53,256.52 110.47,256.41 112.40,255.80 114.33,255.43 116.27,255.78 118.20,256.59 123.40,283.20 125.42,286.56 127.43,289.40 129.45,291.80 131.47,293.84 133.48,295.56 135.50,297.02 137.52,298.25 139.53,299.30 141.55,300.18 143.57,300.93 145.58,301.56 147.60,302.10 152.00,329.20 153.89,329.98 155.78,330.70 157.68,331.35 159.57,331.94 161.46,332.48 163.35,332.97 165.25,333.42 167.14,333.83 169.03,334.21 170.92,334.55 172.82,334.86 174.71,335.14 176.60,335.40 181.00,343.10 182.90,343.22 184.80,343.35 186.70,343.47 188.60,343.59 190.50,343.72 192.40,343.84 194.30,343.96 196.20,344.08 198.10,344.21 200.00,344.33 201.90,344.45 203.80,344.58 205.70,344.70 209.60,345.80 211.55,345.80 213.49,345.80 215.44,345.80 217.38,345.80 219.33,345.80 221.28,345.80 223.22,345.80 225.17,345.80 227.12,345.80 229.06,345.80 231.01,345.80 232.95,345.80 234.90,345.80" fill="none" stroke="#8a8a8a" stroke-width="0.6" stroke-linejoin="round" />
<circle cx="87.38" cy="248.04" r="2.5" fill="#dedede" stroke="#505050" stroke-width="0.7"/>
<circle cx="85.45" cy="248.80" r="2.5" fill="#dedede" stroke="#505050" stroke-width="0.7"/>
<circle cx="83.53" cy="248.38" r="2.5" fill="#dedede" stroke="#505050" stroke-width="0.7"/>
<circle cx="81.60" cy="247.74" r="2.5" fill="#dedede" stroke="#505050" stroke-width="0.7"/>
<circle cx="79.67" cy="248.22" r="2.5" fill="#dedede" stroke="#505050" stroke-width="0.7"/>
<circle cx="77.75" cy="249.26" r="2.5" fill="#dedede" stroke="#505050" stroke-width="0.7"/>
<circle cx="75.83" cy="249.35" r="2.5" fill="#dedede" stroke="#505050" stroke-width="0.7"/>
<circle cx="73.90" cy="248.60" r="2.5" fill="#dedede" stroke="#505050" stroke-width="0.7"/>
<circle cx="71.97" cy="248.52" r="2.5" fill="#dedede" stroke="#505050" stroke-width="0.7"/>
<circle cx="70.05" cy="249.51" r="2.5" fill="#dedede" stroke="#505050" stroke-width="0.7"/>
<circle cx="68.12" cy="250.14" r="2.5" fill="#dedede" stroke="#505050" stroke-width="0.7"/>
<circle cx="66.20" cy="249.60" r="2.5" fill="#dedede" stroke="#505050" stroke-width="0.7"/>
<circle cx="116.27" cy="255.78" r="2.5" fill="#dedede" stroke="#505050" stroke-width="0.7"/>
<circle cx="114.33" cy="255.43" r="2.5" fill="#dedede" stroke="#505050" stroke-width="0.7"/>
<circle cx="112.40" cy="255.80" r="2.5" fill="#dedede" stroke="#505050" stroke-width="0.7"/>
<circle cx="110.47" cy="256.41" r="2.5" fill="#dedede" stroke="#505050" stroke-width="0.7"/>
<circle cx="108.53" cy="256.52" r="2.5" fill="#dedede" stroke="#505050" stroke-width="0.7"/>
<circle cx="106.60" cy="255.90" r="2.5" fill="#dedede" stroke="#505050" stroke-width="0.7"/>
<circle cx="104.67" cy="255.12" r="2.5" fill="#dedede" stroke="#505050" stroke-width="0.7"/>
<circle cx="102.73" cy="254.92" r="2.5" fill="#dedede" stroke="#505050" stroke-width="0.7"/>
<circle cx="100.80" cy="255.40" r="2.5" fill="#dedede" stroke="#505050" stroke-width="0.7"/>
<circle cx="98.87" cy="255.96" r="2.5" fill="#dedede" stroke="#505050" stroke-width="0.7"/>
<circle cx="96.93" cy="255.91" r="2.5" fill="#dedede" stroke="#505050" stroke-width="0.7"/>
<circle cx="95.00" cy="255.20" r="2.5" fill="#dedede" stroke="#505050" stroke-width="0.7"/>
<circle cx="145.58" cy="301.56" r="2.5" fill="#dedede" stroke="#505050" stroke-width="0.7"/>
<circle cx="143.57" cy="300.93" r="2.5" fill="#dedede" stroke="#505050" stroke-width="0.7"/>
<circle cx="141.55" cy="300.18" r="2.5" fill="#dedede" stroke="#505050" stroke-width="0.7"/>
<circle cx="139.53" cy="299.30" r="2.5" fill="#dedede" stroke="#505050" stroke-width="0.7"/>
<circle cx="137.52" cy="298.25" r="2.5" fill="#dedede" stroke="#505050" stroke-width="0.7"/>
<circle cx="135.50" cy="297.02" r="2.5" fill="#dedede" stroke="#505050" stroke-width="0.7"/>
<circle cx="133.48" cy="295.56" r="2.5" fill="#dedede" stroke="#505050" stroke-width="0.7"/>
<circle cx="131.47" cy="293.84" r="2.5" fill="#dedede" stroke="#505050" stroke-width="0.7"/>
<circle cx="129.45" cy="291.80" r="2.5" fill="#dedede" stroke="#505050" stroke-width="0.7"/>
<circle cx="127.43" cy="289.40" r="2.5" fill="#dedede" stroke="#505050" stroke-width="0.7"/>
<circle cx="125.42" cy="286.56" r="2.5" fill="#dedede" stroke="#505050" stroke-width="0.7"/>
<circle cx="123.40" cy="283.20" r="2.5" fill="#dedede" stroke="#505050" stroke-width="0.7"/>
<circle cx="174.71" cy="335.14" r="2.5" fill="#dedede" stroke="#505050" stroke-width="0.7"/>
<circle cx="172.82" cy="334.86" r="2.5" fill="#dedede" stroke="#505050" stroke-width="0.7"/>
<circle cx="170.92" cy="334.55" r="2.5" fill="#dedede" stroke="#505050" stroke-width="0.7"/>
<circle cx="169.03" cy="334.21" r="2.5" fill="#dedede" stroke="#505050" stroke-width="0.7"/>
<circle cx="167.14" cy="333.83" r="2.5" fill="#dedede" stroke="#505050" stroke-width="0.7"/>
<circle cx="165.25" cy="333.42" r="2.5" fill="#dedede" stroke="#505050" stroke-width="0.7"/>
<circle cx="163.35" cy="332.97" r="2.5" fill="#dedede" stroke="#505050" stroke-width="0.7"/>
<circle cx="161.46" cy="332.48" r="2.5" fill="#dedede" stroke="#505050" stroke-width="0.7"/>
<circle cx="159.57" cy="331.94" r="2.5" fill="#dedede" stroke="#505050" stroke-width="0.7"/>
<circle cx="157.68" cy="331.35" r="2.5" fill="#dedede" stroke="#505050" stroke-width="0.7"/>
<circle cx="155.78" cy="330.70" r="2.5" fill="#dedede" stroke="#505050" stroke-width="0.7"/>
<circle cx="153.89" cy="329.98" r="2.5" fill="#dedede" stroke="#505050" stroke-width="0.7"/>
<circle cx="152.00" cy="329.20" r="2.5" fill="#dedede" stroke="#505050" stroke-width="0.7"/>
<circle cx="203.80" cy="344.58" r="2.5" fill="#dedede" stroke="#505050" stroke-width="0.7"/>
<circle cx="201.90" cy="344.45" r="2.5" fill="#dedede" stroke="#505050" stroke-width="0.7"/>
<circle cx="200.00" cy="344.33" r="2.5" fill="#dedede" stroke="#505050" stroke-width="0.7"/>
<circle cx="198.10" cy="344.21" r="2.5" fill="#dedede" stroke="#505050" stroke-width="0.7"/>
<circle cx="196.20" cy="344.08" r="2.5" fill="#dedede" stroke="#505050" stroke-width="0.7"/>
<circle cx="194.30" cy="343.96" r="2.5" fill="#dedede" stroke="#505050" stroke-width="0.7"/>
<circle cx="192.40" cy="343.84" r="2.5" fill="#dedede" stroke="#505050" stroke-width="0.7"/>
<circle cx="190.50" cy="343.72" r="2.5" fill="#dedede" stroke="#505050" stroke-width="0.7"/>
<circle cx="188.60" cy="343.59" r="2.5" fill="#dedede" stroke="#505050" stroke-width="0.7"/>
<circle cx="186.70" cy="343.47" r="2.5" fill="#dedede" stroke="#505050" stroke-width="0.7"/>
<circle cx="184.80" cy="343.35" r="2.5" fill="#dedede" stroke="#505050" stroke-width="0.7"/>
<circle cx="182.90" cy="343.22" r="2.5" fill="#dedede" stroke="#505050" stroke-width="0.7"/>
<circle cx="181.00" cy="343.10" r="2.5" fill="#dedede" stroke="#505050" stroke-width="0.7"/>
<circle cx="232.95" cy="345.80" r="2.5" fill="#dedede" stroke="#505050" stroke-width="0.7"/>
<circle cx="231.01" cy="345.80" r="2.5" fill="#dedede" stroke="#505050" stroke-width="0.7"/>
<circle cx="229.06" cy="345.80" r="2.5" fill="#dedede" stroke="#505050" stroke-width="0.7"/>
<circle cx="227.12" cy="345.80" r="2.5" fill="#dedede" stroke="#505050" stroke-width="0.7"/>
<circle cx="225.17" cy="345.80" r="2.5" fill="#dedede" stroke="#505050" stroke-width="0.7"/>
<circle cx="223.22" cy="345.80" r="2.5" fill="#dedede" stroke="#505050" stroke-width="0.7"/>
<circle cx="221.28" cy="345.80" r="2.5" fill="#dedede" stroke="#505050" stroke-width="0.7"/>
<circle cx="219.33" cy="345.80" r="2.5" fill="#dedede" stroke="#505050" stroke-width="0.7"/>
<circle cx="217.38" cy="345.80" r="2.5" fill="#dedede" stroke="#505050" stroke-width="0.7"/>
<circle cx="215.44" cy="345.80" r="2.5" fill="#dedede" stroke="#505050" stroke-width="0.7"/>
<circle cx="213.49" cy="345.80" r="2.5" fill="#dedede" stroke="#505050" stroke-width="0.7"/>
<circle cx="211.55" cy="345.80" r="2.5" fill="#dedede" stroke="#505050" stroke-width="0.7"/>
<circle cx="209.60" cy="345.80" r="2.5" fill="#dedede" stroke="#505050" stroke-width="0.7"/>
<circle cx="89.30" cy="247.13" r="2.75" fill="#1010f0" stroke="none" stroke-width="0"/>
<circle cx="118.20" cy="256.59" r="2.75" fill="#f01010" stroke="none" stroke-width="0"/>
<circle cx="147.60" cy="302.10" r="2.75" fill="#10b010" stroke="none" stroke-width="0"/>
<circle cx="176.60" cy="335.40" r="2.75" fill="#a020e0" stroke="none" stroke-width="0"/>
<circle cx="205.70" cy="344.70" r="2.75" fill="#ff8c1a" stroke="none" stroke-width="0"/>
<circle cx="234.90" cy="345.80" r="2.75" fill="#000" stroke="none" stroke-width="0"/>
<text x="282.80" y="223.60" font-size="17" font-weight="bold" text-anchor="start" fill="#000" >e</text>
<line x1="353.40" y1="223.70" x2="353.40" y2="371.06" stroke="#000" stroke-width="1.8" stroke-linecap="butt"/>
<line x1="349.90" y1="224.60" x2="353.40" y2="224.60" stroke="#000" stroke-width="1.8" stroke-linecap="butt"/>
<text x="345.90" y="227.60" font-size="8.9" font-weight="bold" text-anchor="end" fill="#000" >500</text>
<line x1="349.90" y1="248.86" x2="353.40" y2="248.86" stroke="#000" stroke-width="1.8" stroke-linecap="butt"/>
<text x="345.90" y="251.86" font-size="8.9" font-weight="bold" text-anchor="end" fill="#000" >400</text>
<line x1="349.90" y1="273.12" x2="353.40" y2="273.12" stroke="#000" stroke-width="1.8" stroke-linecap="butt"/>
<text x="345.90" y="276.12" font-size="8.9" font-weight="bold" text-anchor="end" fill="#000" >300</text>
<line x1="349.90" y1="297.38" x2="353.40" y2="297.38" stroke="#000" stroke-width="1.8" stroke-linecap="butt"/>
<text x="345.90" y="300.38" font-size="8.9" font-weight="bold" text-anchor="end" fill="#000" >200</text>
<line x1="349.90" y1="321.64" x2="353.40" y2="321.64" stroke="#000" stroke-width="1.8" stroke-linecap="butt"/>
<text x="345.90" y="324.64" font-size="8.9" font-weight="bold" text-anchor="end" fill="#000" >100</text>
<line x1="349.90" y1="370.16" x2="353.40" y2="370.16" stroke="#000" stroke-width="1.8" stroke-linecap="butt"/>
<text x="345.90" y="373.16" font-size="8.9" font-weight="bold" text-anchor="end" fill="#000" >-100</text>
<text transform="translate(315.20,270.60) rotate(-90)" font-size="8.9" font-weight="bold" text-anchor="middle" fill="#000">Current pA/pF</text>
<line x1="282.80" y1="346.20" x2="423.80" y2="346.20" stroke="#000" stroke-width="1.8" stroke-linecap="butt"/>
<line x1="283.70" y1="345.60" x2="283.70" y2="349.80" stroke="#000" stroke-width="1.8" stroke-linecap="butt"/>
<line x1="422.90" y1="345.60" x2="422.90" y2="349.80" stroke="#000" stroke-width="1.8" stroke-linecap="butt"/>
<text x="283.50" y="364.60" font-size="8.9" font-weight="bold" text-anchor="middle" fill="#000" >-100</text>
<text x="316.70" y="364.60" font-size="8.9" font-weight="bold" text-anchor="middle" fill="#000" >-50</text>
<text x="388.70" y="364.60" font-size="8.9" font-weight="bold" text-anchor="middle" fill="#000" >50</text>
<text x="423.00" y="364.60" font-size="8.9" font-weight="bold" text-anchor="middle" fill="#000" >100</text>
<text x="353.40" y="390.90" font-size="8.9" font-weight="bold" text-anchor="middle" fill="#000" >Voltage mV</text>
<polyline points="290.40,345.90 304.40,345.90 318.40,345.90 332.40,345.90 346.40,345.90 360.40,345.90 374.40,345.90 388.40,345.90 402.40,344.93 416.40,343.96" fill="none" stroke="#000" stroke-width="1.15" stroke-linejoin="round" />
<polyline points="290.40,346.14 304.40,346.14 318.40,346.14 332.40,346.14 346.40,345.90 360.40,345.66 374.40,345.17 388.40,344.69 402.40,342.50 416.40,339.59" fill="none" stroke="#ff8c1a" stroke-width="1.15" stroke-linejoin="round" />
<polyline points="290.40,343.96 304.40,343.96 318.40,343.96 332.40,344.44 346.40,345.41 360.40,345.66 374.40,343.96 388.40,340.08 402.40,335.47 416.40,326.98" fill="none" stroke="#9a10ff" stroke-width="1.15" stroke-linejoin="round" />
<polyline points="290.40,345.66 304.40,345.66 318.40,345.66 332.40,345.66 346.40,345.66 360.40,345.17 374.40,339.35 388.40,332.80 402.40,320.18 416.40,301.99" fill="none" stroke="#1a8c1a" stroke-width="1.15" stroke-linejoin="round" />
<polyline points="290.40,345.17 304.40,345.17 318.40,345.17 332.40,345.66 346.40,345.90 360.40,342.50 374.40,333.28 388.40,320.18 402.40,300.53 416.40,272.39" fill="none" stroke="#ff0000" stroke-width="1.15" stroke-linejoin="round" />
<polyline points="290.40,348.57 304.40,348.81 318.40,348.57 332.40,348.33 346.40,345.41 360.40,339.11 374.40,328.43 388.40,311.45 402.40,286.46 416.40,251.29" fill="none" stroke="#0000ff" stroke-width="1.15" stroke-linejoin="round" />
<circle cx="290.40" cy="345.90" r="3.0" fill="#000" stroke="none" stroke-width="0"/>
<circle cx="304.40" cy="345.90" r="3.0" fill="#000" stroke="none" stroke-width="0"/>
<circle cx="318.40" cy="345.90" r="3.0" fill="#000" stroke="none" stroke-width="0"/>
<circle cx="332.40" cy="345.90" r="3.0" fill="#000" stroke="none" stroke-width="0"/>
<circle cx="346.40" cy="345.90" r="3.0" fill="#000" stroke="none" stroke-width="0"/>
<circle cx="360.40" cy="345.90" r="3.0" fill="#000" stroke="none" stroke-width="0"/>
<circle cx="374.40" cy="345.90" r="3.0" fill="#000" stroke="none" stroke-width="0"/>
<circle cx="388.40" cy="345.90" r="3.0" fill="#000" stroke="none" stroke-width="0"/>
<circle cx="402.40" cy="344.93" r="3.0" fill="#000" stroke="none" stroke-width="0"/>
<circle cx="416.40" cy="343.96" r="3.0" fill="#000" stroke="none" stroke-width="0"/>
<polygon points="290.40,342.94 293.60,346.14 290.40,349.34 287.20,346.14" fill="#ff8c1a"/>
<polygon points="304.40,342.94 307.60,346.14 304.40,349.34 301.20,346.14" fill="#ff8c1a"/>
<polygon points="318.40,342.94 321.60,346.14 318.40,349.34 315.20,346.14" fill="#ff8c1a"/>
<polygon points="332.40,342.94 335.60,346.14 332.40,349.34 329.20,346.14" fill="#ff8c1a"/>
<polygon points="346.40,342.70 349.60,345.90 346.40,349.10 343.20,345.90" fill="#ff8c1a"/>
<polygon points="360.40,342.46 363.60,345.66 360.40,348.86 357.20,345.66" fill="#ff8c1a"/>
<polygon points="374.40,341.97 377.60,345.17 374.40,348.37 371.20,345.17" fill="#ff8c1a"/>
<polygon points="388.40,341.49 391.60,344.69 388.40,347.89 385.20,344.69" fill="#ff8c1a"/>
<polygon points="402.40,339.30 405.60,342.50 402.40,345.70 399.20,342.50" fill="#ff8c1a"/>
<line x1="416.40" y1="338.62" x2="416.40" y2="339.59" stroke="#ff8c1a" stroke-width="1.15" stroke-linecap="butt"/>
<line x1="413.70" y1="338.62" x2="419.10" y2="338.62" stroke="#ff8c1a" stroke-width="1.15" stroke-linecap="butt"/>
<line x1="413.70" y1="339.59" x2="419.10" y2="339.59" stroke="#ff8c1a" stroke-width="1.15" stroke-linecap="butt"/>
<polygon points="416.40,336.39 419.60,339.59 416.40,342.79 413.20,339.59" fill="#ff8c1a"/>
<polygon points="290.40,347.21 293.50,341.63 287.30,341.63" fill="#9a10ff"/>
<polygon points="304.40,347.21 307.50,341.63 301.30,341.63" fill="#9a10ff"/>
<polygon points="318.40,347.21 321.50,341.63 315.30,341.63" fill="#9a10ff"/>
<polygon points="332.40,347.70 335.50,342.12 329.30,342.12" fill="#9a10ff"/>
<polygon points="346.40,348.67 349.50,343.09 343.30,343.09" fill="#9a10ff"/>
<polygon points="360.40,348.91 363.50,343.33 357.30,343.33" fill="#9a10ff"/>
<polygon points="374.40,347.21 377.50,341.63 371.30,341.63" fill="#9a10ff"/>
<polygon points="388.40,343.33 391.50,337.75 385.30,337.75" fill="#9a10ff"/>
<polygon points="402.40,338.72 405.50,333.14 399.30,333.14" fill="#9a10ff"/>
<line x1="416.40" y1="323.82" x2="416.40" y2="326.98" stroke="#9a10ff" stroke-width="1.15" stroke-linecap="butt"/>
<line x1="413.70" y1="323.82" x2="419.10" y2="323.82" stroke="#9a10ff" stroke-width="1.15" stroke-linecap="butt"/>
<line x1="413.70" y1="326.98" x2="419.10" y2="326.98" stroke="#9a10ff" stroke-width="1.15" stroke-linecap="butt"/>
<polygon points="416.40,330.23 419.50,324.65 413.30,324.65" fill="#9a10ff"/>
<polygon points="290.40,342.40 293.50,347.98 287.30,347.98" fill="#1a8c1a"/>
<polygon points="304.40,342.40 307.50,347.98 301.30,347.98" fill="#1a8c1a"/>
<polygon points="318.40,342.40 321.50,347.98 315.30,347.98" fill="#1a8c1a"/>
<polygon points="332.40,342.40 335.50,347.98 329.30,347.98" fill="#1a8c1a"/>
<polygon points="346.40,342.40 349.50,347.98 343.30,347.98" fill="#1a8c1a"/>
<polygon points="360.40,341.92 363.50,347.50 357.30,347.50" fill="#1a8c1a"/>
<polygon points="374.40,336.09 377.50,341.67 371.30,341.67" fill="#1a8c1a"/>
<polygon points="388.40,329.54 391.50,335.12 385.30,335.12" fill="#1a8c1a"/>
<line x1="402.40" y1="316.30" x2="402.40" y2="320.18" stroke="#1a8c1a" stroke-width="1.15" stroke-linecap="butt"/>
<line x1="399.70" y1="316.30" x2="405.10" y2="316.30" stroke="#1a8c1a" stroke-width="1.15" stroke-linecap="butt"/>
<line x1="399.70" y1="320.18" x2="405.10" y2="320.18" stroke="#1a8c1a" stroke-width="1.15" stroke-linecap="butt"/>
<polygon points="402.40,316.93 405.50,322.51 399.30,322.51" fill="#1a8c1a"/>
<line x1="416.40" y1="295.20" x2="416.40" y2="301.99" stroke="#1a8c1a" stroke-width="1.15" stroke-linecap="butt"/>
<line x1="413.70" y1="295.20" x2="419.10" y2="295.20" stroke="#1a8c1a" stroke-width="1.15" stroke-linecap="butt"/>
<line x1="413.70" y1="301.99" x2="419.10" y2="301.99" stroke="#1a8c1a" stroke-width="1.15" stroke-linecap="butt"/>
<polygon points="416.40,298.73 419.50,304.31 413.30,304.31" fill="#1a8c1a"/>
<rect x="287.50" y="342.27" width="5.8" height="5.8" fill="#ff0000"/>
<rect x="301.50" y="342.27" width="5.8" height="5.8" fill="#ff0000"/>
<rect x="315.50" y="342.27" width="5.8" height="5.8" fill="#ff0000"/>
<rect x="329.50" y="342.76" width="5.8" height="5.8" fill="#ff0000"/>
<rect x="343.50" y="343.00" width="5.8" height="5.8" fill="#ff0000"/>
<rect x="357.50" y="339.60" width="5.8" height="5.8" fill="#ff0000"/>
<rect x="371.50" y="330.38" width="5.8" height="5.8" fill="#ff0000"/>
<rect x="385.50" y="317.28" width="5.8" height="5.8" fill="#ff0000"/>
<line x1="402.40" y1="294.71" x2="402.40" y2="300.53" stroke="#ff0000" stroke-width="1.15" stroke-linecap="butt"/>
<line x1="399.70" y1="294.71" x2="405.10" y2="294.71" stroke="#ff0000" stroke-width="1.15" stroke-linecap="butt"/>
<line x1="399.70" y1="300.53" x2="405.10" y2="300.53" stroke="#ff0000" stroke-width="1.15" stroke-linecap="butt"/>
<rect x="399.50" y="297.63" width="5.8" height="5.8" fill="#ff0000"/>
<line x1="416.40" y1="261.72" x2="416.40" y2="272.39" stroke="#ff0000" stroke-width="1.15" stroke-linecap="butt"/>
<line x1="413.70" y1="261.72" x2="419.10" y2="261.72" stroke="#ff0000" stroke-width="1.15" stroke-linecap="butt"/>
<line x1="413.70" y1="272.39" x2="419.10" y2="272.39" stroke="#ff0000" stroke-width="1.15" stroke-linecap="butt"/>
<rect x="413.50" y="269.49" width="5.8" height="5.8" fill="#ff0000"/>
<circle cx="290.40" cy="348.57" r="3.0" fill="#0000ff" stroke="none" stroke-width="0"/>
<circle cx="304.40" cy="348.81" r="3.0" fill="#0000ff" stroke="none" stroke-width="0"/>
<circle cx="318.40" cy="348.57" r="3.0" fill="#0000ff" stroke="none" stroke-width="0"/>
<circle cx="332.40" cy="348.33" r="3.0" fill="#0000ff" stroke="none" stroke-width="0"/>
<circle cx="346.40" cy="345.41" r="3.0" fill="#0000ff" stroke="none" stroke-width="0"/>
<circle cx="360.40" cy="339.11" r="3.0" fill="#0000ff" stroke="none" stroke-width="0"/>
<circle cx="374.40" cy="328.43" r="3.0" fill="#0000ff" stroke="none" stroke-width="0"/>
<line x1="388.40" y1="308.05" x2="388.40" y2="311.45" stroke="#0000ff" stroke-width="1.15" stroke-linecap="butt"/>
<line x1="385.70" y1="308.05" x2="391.10" y2="308.05" stroke="#0000ff" stroke-width="1.15" stroke-linecap="butt"/>
<line x1="385.70" y1="311.45" x2="391.10" y2="311.45" stroke="#0000ff" stroke-width="1.15" stroke-linecap="butt"/>
<circle cx="388.40" cy="311.45" r="3.0" fill="#0000ff" stroke="none" stroke-width="0"/>
<line x1="402.40" y1="279.67" x2="402.40" y2="286.46" stroke="#0000ff" stroke-width="1.15" stroke-linecap="butt"/>
<line x1="399.70" y1="279.67" x2="405.10" y2="279.67" stroke="#0000ff" stroke-width="1.15" stroke-linecap="butt"/>
<line x1="399.70" y1="286.46" x2="405.10" y2="286.46" stroke="#0000ff" stroke-width="1.15" stroke-linecap="butt"/>
<circle cx="402.40" cy="286.46" r="3.0" fill="#0000ff" stroke="none" stroke-width="0"/>
<line x1="416.40" y1="239.16" x2="416.40" y2="251.29" stroke="#0000ff" stroke-width="1.15" stroke-linecap="butt"/>
<line x1="413.70" y1="239.16" x2="419.10" y2="239.16" stroke="#0000ff" stroke-width="1.15" stroke-linecap="butt"/>
<line x1="413.70" y1="251.29" x2="419.10" y2="251.29" stroke="#0000ff" stroke-width="1.15" stroke-linecap="butt"/>
<circle cx="416.40" cy="251.29" r="3.0" fill="#0000ff" stroke="none" stroke-width="0"/>
<circle cx="431.70" cy="244.80" r="2.7" fill="#0000ff" stroke="none" stroke-width="0"/>
<text x="437.20" y="247.60" font-size="8.9" font-weight="bold" text-anchor="start" fill="#000" >0.1 % DMSO</text>
<text x="437.90" y="264.90" font-size="8.9" font-weight="bold" text-anchor="start" fill="#000" >Ani9</text>
<rect x="429.50" y="268.90" width="4.4" height="4.4" fill="#ff0000"/>
<text x="437.20" y="273.70" font-size="8.9" font-weight="bold" text-anchor="start" fill="#000" >0.041 μM</text>
<polygon points="431.70,277.17 434.40,282.02 429.00,282.02" fill="#1a8c1a"/>
<text x="437.20" y="282.40" font-size="8.9" font-weight="bold" text-anchor="start" fill="#000" >0.123 μM</text>
<polygon points="431.70,291.23 434.40,286.38 429.00,286.38" fill="#9a10ff"/>
<text x="437.20" y="290.80" font-size="8.9" font-weight="bold" text-anchor="start" fill="#000" >0.37 μM</text>
<polygon points="431.70,294.50 434.50,297.30 431.70,300.10 428.90,297.30" fill="#ff8c1a"/>
<text x="437.20" y="300.00" font-size="8.9" font-weight="bold" text-anchor="start" fill="#000" >1.11 μM</text>
<circle cx="431.70" cy="306.50" r="2.5" fill="#000" stroke="none" stroke-width="0"/>
<text x="437.20" y="308.60" font-size="8.9" font-weight="bold" text-anchor="start" fill="#000" >3.33 μM</text>
<text x="507.50" y="223.20" font-size="17" font-weight="bold" text-anchor="start" fill="#000" >f</text>
<line x1="558.30" y1="224.40" x2="558.30" y2="347.60" stroke="#000" stroke-width="1.8" stroke-linecap="butt"/>
<line x1="554.80" y1="346.70" x2="558.30" y2="346.70" stroke="#000" stroke-width="1.8" stroke-linecap="butt"/>
<text x="550.60" y="349.70" font-size="8.9" font-weight="bold" text-anchor="end" fill="#000" >0</text>
<line x1="554.80" y1="316.35" x2="558.30" y2="316.35" stroke="#000" stroke-width="1.8" stroke-linecap="butt"/>
<text x="550.60" y="319.35" font-size="8.9" font-weight="bold" text-anchor="end" fill="#000" >25</text>
<line x1="554.80" y1="286.00" x2="558.30" y2="286.00" stroke="#000" stroke-width="1.8" stroke-linecap="butt"/>
<text x="550.60" y="289.00" font-size="8.9" font-weight="bold" text-anchor="end" fill="#000" >50</text>
<line x1="554.80" y1="255.65" x2="558.30" y2="255.65" stroke="#000" stroke-width="1.8" stroke-linecap="butt"/>
<text x="550.60" y="258.65" font-size="8.9" font-weight="bold" text-anchor="end" fill="#000" >75</text>
<line x1="554.80" y1="225.30" x2="558.30" y2="225.30" stroke="#000" stroke-width="1.8" stroke-linecap="butt"/>
<text x="550.60" y="228.30" font-size="8.9" font-weight="bold" text-anchor="end" fill="#000" >100</text>
<text transform="translate(524.40,254.30) rotate(-90)" font-size="8.9" font-weight="bold" text-anchor="middle" fill="#000">I/Imax</text>
<line x1="565.60" y1="357.30" x2="682.30" y2="357.30" stroke="#000" stroke-width="1.8" stroke-linecap="butt"/>
<line x1="566.50" y1="357.30" x2="566.50" y2="360.70" stroke="#000" stroke-width="1.8" stroke-linecap="butt"/>
<text x="566.50" y="372.50" font-size="8.9" font-weight="bold" text-anchor="middle" fill="#000" >-9</text>
<line x1="589.48" y1="357.30" x2="589.48" y2="360.70" stroke="#000" stroke-width="1.8" stroke-linecap="butt"/>
<text x="589.48" y="372.50" font-size="8.9" font-weight="bold" text-anchor="middle" fill="#000" >-8</text>
<line x1="612.46" y1="357.30" x2="612.46" y2="360.70" stroke="#000" stroke-width="1.8" stroke-linecap="butt"/>
<text x="612.46" y="372.50" font-size="8.9" font-weight="bold" text-anchor="middle" fill="#000" >-7</text>
<line x1="635.44" y1="357.30" x2="635.44" y2="360.70" stroke="#000" stroke-width="1.8" stroke-linecap="butt"/>
<text x="635.44" y="372.50" font-size="8.9" font-weight="bold" text-anchor="middle" fill="#000" >-6</text>
<line x1="658.42" y1="357.30" x2="658.42" y2="360.70" stroke="#000" stroke-width="1.8" stroke-linecap="butt"/>
<text x="658.42" y="372.50" font-size="8.9" font-weight="bold" text-anchor="middle" fill="#000" >-5</text>
<line x1="681.40" y1="357.30" x2="681.40" y2="360.70" stroke="#000" stroke-width="1.8" stroke-linecap="butt"/>
<text x="681.40" y="372.50" font-size="8.9" font-weight="bold" text-anchor="middle" fill="#000" >-4</text>
<text x="624.30" y="390.80" font-size="8.9" font-weight="bold" text-anchor="middle" fill="#000" >Log<tspan font-size="5.4" dy="2.8">10</tspan><tspan dy="-2.8"> [Ani9] M</tspan></text>
<polyline points="577.99,226.08 578.56,226.18 579.14,226.28 579.71,226.40 580.29,226.53 580.86,226.67 581.44,226.82 582.01,226.99 582.59,227.17 583.16,227.37 583.74,227.59 584.31,227.83 584.88,228.09 585.46,228.38 586.03,228.69 586.61,229.02 587.18,229.39 587.76,229.80 588.33,230.23 588.91,230.71 589.48,231.23 590.05,231.79 590.63,232.40 591.20,233.06 591.78,233.77 592.35,234.55 592.93,235.38 593.50,236.29 594.08,237.26 594.65,238.31 595.23,239.43 595.80,240.64 596.37,241.93 596.95,243.31 597.52,244.78 598.10,246.34 598.67,248.00 599.25,249.75 599.82,251.61 600.40,253.56 600.97,255.60 601.54,257.74 602.12,259.98 602.69,262.29 603.27,264.70 603.84,267.17 604.42,269.72 604.99,272.32 605.57,274.97 606.14,277.67 606.72,280.39 607.29,283.14 607.86,285.89 608.44,288.63 609.01,291.36 609.59,294.06 610.16,296.73 610.74,299.34 611.31,301.90 611.89,304.39 612.46,306.80 613.03,309.14 613.61,311.39 614.18,313.55 614.76,315.61 615.33,317.58 615.91,319.46 616.48,321.23 617.06,322.91 617.63,324.49 618.21,325.98 618.78,327.38 619.35,328.68 619.93,329.91 620.50,331.05 621.08,332.11 621.65,333.10 622.23,334.01 622.80,334.86 623.38,335.65 623.95,336.38 624.52,337.05 625.10,337.67 625.67,338.24 626.25,338.76 626.82,339.25 627.40,339.69 627.97,340.10 628.55,340.48 629.12,340.82 629.70,341.14 630.27,341.43 630.84,341.69 631.42,341.93 631.99,342.16 632.57,342.36 633.14,342.55 633.72,342.72 634.29,342.87 634.87,343.02 635.44,343.15 636.01,343.27 636.59,343.37 637.16,343.47 637.74,343.56 638.31,343.65 638.89,343.72 639.46,343.79 640.04,343.86 640.61,343.91 641.18,343.97 641.76,344.01 642.33,344.06 642.91,344.10 643.48,344.13 644.06,344.17 644.63,344.20 645.21,344.23 645.78,344.25 646.36,344.27 646.93,344.30 647.50,344.32 648.08,344.33 648.65,344.35 649.23,344.36 649.80,344.38 650.38,344.39 650.95,344.40 651.53,344.41 652.10,344.42 652.67,344.43 653.25,344.44 653.82,344.44 654.40,344.45 654.97,344.45 655.55,344.46 656.12,344.46 656.70,344.47 657.27,344.47 657.85,344.48 658.42,344.48" fill="none" stroke="#0000ff" stroke-width="1.0" stroke-linejoin="round" />
<polyline points="577.99,225.37 578.56,225.40 579.14,225.44 579.71,225.48 580.29,225.52 580.86,225.57 581.44,225.62 582.01,225.67 582.59,225.74 583.16,225.80 583.74,225.88 584.31,225.96 584.88,226.05 585.46,226.15 586.03,226.27 586.61,226.39 587.18,226.52 587.76,226.67 588.33,226.83 588.91,227.00 589.48,227.20 590.05,227.41 590.63,227.64 591.20,227.90 591.78,228.18 592.35,228.49 592.93,228.83 593.50,229.20 594.08,229.60 594.65,230.04 595.23,230.53 595.80,231.06 596.37,231.63 596.95,232.26 597.52,232.94 598.10,233.68 598.67,234.49 599.25,235.37 599.82,236.31 600.40,237.34 600.97,238.45 601.54,239.64 602.12,240.93 602.69,242.30 603.27,243.78 603.84,245.36 604.42,247.04 604.99,248.83 605.57,250.72 606.14,252.73 606.72,254.84 607.29,257.05 607.86,259.36 608.44,261.78 609.01,264.28 609.59,266.87 610.16,269.54 610.74,272.27 611.31,275.05 611.89,277.89 612.46,280.75 613.03,283.63 613.61,286.52 614.18,289.40 614.76,292.26 615.33,295.08 615.91,297.86 616.48,300.58 617.06,303.23 617.63,305.80 618.21,308.28 618.78,310.68 619.35,312.97 619.93,315.17 620.50,317.26 621.08,319.24 621.65,321.11 622.23,322.88 622.80,324.54 623.38,326.10 623.95,327.55 624.52,328.91 625.10,330.18 625.67,331.35 626.25,332.44 626.82,333.45 627.40,334.39 627.97,335.25 628.55,336.04 629.12,336.77 629.70,337.44 630.27,338.06 630.84,338.63 631.42,339.14 631.99,339.62 632.57,340.05 633.14,340.45 633.72,340.81 634.29,341.15 634.87,341.45 635.44,341.72 636.01,341.98 636.59,342.21 637.16,342.41 637.74,342.60 638.31,342.78 638.89,342.94 639.46,343.08 640.04,343.21 640.61,343.33 641.18,343.44 641.76,343.54 642.33,343.63 642.91,343.71 643.48,343.78 644.06,343.85 644.63,343.91 645.21,343.97 645.78,344.02 646.36,344.06 646.93,344.10 647.50,344.14 648.08,344.18 648.65,344.21 649.23,344.23 649.80,344.26 650.38,344.28 650.95,344.31 651.53,344.32 652.10,344.34 652.67,344.36 653.25,344.37 653.82,344.39 654.40,344.40 654.97,344.41 655.55,344.42 656.12,344.43 656.70,344.44 657.27,344.44 657.85,344.45 658.42,344.46" fill="none" stroke="#ff0000" stroke-width="1.0" stroke-linejoin="round" />
<line x1="603.57" y1="242.66" x2="603.57" y2="248.24" stroke="#ff0000" stroke-width="1.05" stroke-linecap="butt"/>
<line x1="600.87" y1="242.66" x2="606.27" y2="242.66" stroke="#ff0000" stroke-width="1.05" stroke-linecap="butt"/>
<line x1="600.87" y1="248.24" x2="606.27" y2="248.24" stroke="#ff0000" stroke-width="1.05" stroke-linecap="butt"/>
<circle cx="603.57" cy="245.45" r="2.5" fill="#ff0000" stroke="none" stroke-width="0"/>
<line x1="614.53" y1="292.43" x2="614.53" y2="299.23" stroke="#ff0000" stroke-width="1.05" stroke-linecap="butt"/>
<line x1="611.83" y1="292.43" x2="617.23" y2="292.43" stroke="#ff0000" stroke-width="1.05" stroke-linecap="butt"/>
<line x1="611.83" y1="299.23" x2="617.23" y2="299.23" stroke="#ff0000" stroke-width="1.05" stroke-linecap="butt"/>
<circle cx="614.53" cy="295.83" r="2.5" fill="#ff0000" stroke="none" stroke-width="0"/>
<line x1="625.56" y1="326.30" x2="625.56" y2="333.10" stroke="#ff0000" stroke-width="1.05" stroke-linecap="butt"/>
<line x1="622.86" y1="326.30" x2="628.26" y2="326.30" stroke="#ff0000" stroke-width="1.05" stroke-linecap="butt"/>
<line x1="622.86" y1="333.10" x2="628.26" y2="333.10" stroke="#ff0000" stroke-width="1.05" stroke-linecap="butt"/>
<circle cx="625.56" cy="329.70" r="2.5" fill="#ff0000" stroke="none" stroke-width="0"/>
<line x1="636.59" y1="338.57" x2="636.59" y2="345.36" stroke="#ff0000" stroke-width="1.05" stroke-linecap="butt"/>
<line x1="633.89" y1="338.57" x2="639.29" y2="338.57" stroke="#ff0000" stroke-width="1.05" stroke-linecap="butt"/>
<line x1="633.89" y1="345.36" x2="639.29" y2="345.36" stroke="#ff0000" stroke-width="1.05" stroke-linecap="butt"/>
<circle cx="636.59" cy="341.97" r="2.5" fill="#ff0000" stroke="none" stroke-width="0"/>
<line x1="647.39" y1="343.54" x2="647.39" y2="348.40" stroke="#ff0000" stroke-width="1.05" stroke-linecap="butt"/>
<line x1="644.69" y1="343.54" x2="650.09" y2="343.54" stroke="#ff0000" stroke-width="1.05" stroke-linecap="butt"/>
<line x1="644.69" y1="348.40" x2="650.09" y2="348.40" stroke="#ff0000" stroke-width="1.05" stroke-linecap="butt"/>
<circle cx="647.39" cy="345.97" r="2.5" fill="#ff0000" stroke="none" stroke-width="0"/>
<line x1="658.42" y1="343.30" x2="658.42" y2="347.19" stroke="#ff0000" stroke-width="1.05" stroke-linecap="butt"/>
<line x1="655.72" y1="343.30" x2="661.12" y2="343.30" stroke="#ff0000" stroke-width="1.05" stroke-linecap="butt"/>
<line x1="655.72" y1="347.19" x2="661.12" y2="347.19" stroke="#ff0000" stroke-width="1.05" stroke-linecap="butt"/>
<circle cx="658.42" cy="345.24" r="2.5" fill="#ff0000" stroke="none" stroke-width="0"/>
<line x1="603.57" y1="261.11" x2="603.57" y2="267.67" stroke="#0000ff" stroke-width="1.05" stroke-linecap="butt"/>
<line x1="600.87" y1="261.11" x2="606.27" y2="261.11" stroke="#0000ff" stroke-width="1.05" stroke-linecap="butt"/>
<line x1="600.87" y1="267.67" x2="606.27" y2="267.67" stroke="#0000ff" stroke-width="1.05" stroke-linecap="butt"/>
<circle cx="603.57" cy="264.39" r="2.5" fill="#0000ff" stroke="none" stroke-width="0"/>
<line x1="614.53" y1="313.56" x2="614.53" y2="320.36" stroke="#0000ff" stroke-width="1.05" stroke-linecap="butt"/>
<line x1="611.83" y1="313.56" x2="617.23" y2="313.56" stroke="#0000ff" stroke-width="1.05" stroke-linecap="butt"/>
<line x1="611.83" y1="320.36" x2="617.23" y2="320.36" stroke="#0000ff" stroke-width="1.05" stroke-linecap="butt"/>
<circle cx="614.53" cy="316.96" r="2.5" fill="#0000ff" stroke="none" stroke-width="0"/>
<line x1="625.56" y1="332.74" x2="625.56" y2="339.54" stroke="#0000ff" stroke-width="1.05" stroke-linecap="butt"/>
<line x1="622.86" y1="332.74" x2="628.26" y2="332.74" stroke="#0000ff" stroke-width="1.05" stroke-linecap="butt"/>
<line x1="622.86" y1="339.54" x2="628.26" y2="339.54" stroke="#0000ff" stroke-width="1.05" stroke-linecap="butt"/>
<circle cx="625.56" cy="336.14" r="2.5" fill="#0000ff" stroke="none" stroke-width="0"/>
<line x1="636.59" y1="337.84" x2="636.59" y2="346.09" stroke="#0000ff" stroke-width="1.05" stroke-linecap="butt"/>
<line x1="633.89" y1="337.84" x2="639.29" y2="337.84" stroke="#0000ff" stroke-width="1.05" stroke-linecap="butt"/>
<line x1="633.89" y1="346.09" x2="639.29" y2="346.09" stroke="#0000ff" stroke-width="1.05" stroke-linecap="butt"/>
<circle cx="636.59" cy="341.97" r="2.5" fill="#0000ff" stroke="none" stroke-width="0"/>
<line x1="647.39" y1="342.57" x2="647.39" y2="349.37" stroke="#0000ff" stroke-width="1.05" stroke-linecap="butt"/>
<line x1="644.69" y1="342.57" x2="650.09" y2="342.57" stroke="#0000ff" stroke-width="1.05" stroke-linecap="butt"/>
<line x1="644.69" y1="349.37" x2="650.09" y2="349.37" stroke="#0000ff" stroke-width="1.05" stroke-linecap="butt"/>
<circle cx="647.39" cy="345.97" r="2.5" fill="#0000ff" stroke="none" stroke-width="0"/>
<line x1="658.42" y1="340.63" x2="658.42" y2="348.89" stroke="#0000ff" stroke-width="1.05" stroke-linecap="butt"/>
<line x1="655.72" y1="340.63" x2="661.12" y2="340.63" stroke="#0000ff" stroke-width="1.05" stroke-linecap="butt"/>
<line x1="655.72" y1="348.89" x2="661.12" y2="348.89" stroke="#0000ff" stroke-width="1.05" stroke-linecap="butt"/>
<circle cx="658.42" cy="344.76" r="2.5" fill="#0000ff" stroke="none" stroke-width="0"/>
<circle cx="624.30" cy="262.30" r="2.6" fill="#ff0000" stroke="none" stroke-width="0"/>
<text x="629.60" y="264.50" font-size="8.9" font-weight="bold" text-anchor="start" fill="#000" >+70 mV</text>
<circle cx="624.30" cy="270.80" r="2.6" fill="#0000ff" stroke="none" stroke-width="0"/>
<text x="629.60" y="273.50" font-size="8.9" font-weight="bold" text-anchor="start" fill="#000" >-70 mV</text>
<text x="0.20" y="433.80" font-size="17" font-weight="bold" text-anchor="start" fill="#000" >g</text>
<line x1="51.50" y1="434.50" x2="51.50" y2="557.50" stroke="#000" stroke-width="1.8" stroke-linecap="butt"/>
<line x1="48.00" y1="556.60" x2="51.50" y2="556.60" stroke="#000" stroke-width="1.8" stroke-linecap="butt"/>
<text x="43.90" y="559.60" font-size="8.9" font-weight="bold" text-anchor="end" fill="#000" >0</text>
<line x1="48.00" y1="526.30" x2="51.50" y2="526.30" stroke="#000" stroke-width="1.8" stroke-linecap="butt"/>
<text x="43.90" y="529.30" font-size="8.9" font-weight="bold" text-anchor="end" fill="#000" >25</text>
<line x1="48.00" y1="496.00" x2="51.50" y2="496.00" stroke="#000" stroke-width="1.8" stroke-linecap="butt"/>
<text x="43.90" y="499.00" font-size="8.9" font-weight="bold" text-anchor="end" fill="#000" >50</text>
<line x1="48.00" y1="465.70" x2="51.50" y2="465.70" stroke="#000" stroke-width="1.8" stroke-linecap="butt"/>
<text x="43.90" y="468.70" font-size="8.9" font-weight="bold" text-anchor="end" fill="#000" >75</text>
<line x1="48.00" y1="435.40" x2="51.50" y2="435.40" stroke="#000" stroke-width="1.8" stroke-linecap="butt"/>
<text x="43.90" y="438.40" font-size="8.9" font-weight="bold" text-anchor="end" fill="#000" >100</text>
<text transform="translate(17.40,464.30) rotate(-90)" font-size="8.9" font-weight="bold" text-anchor="middle" fill="#000">I/Imax</text>
<line x1="56.90" y1="567.60" x2="173.48" y2="567.60" stroke="#000" stroke-width="1.8" stroke-linecap="butt"/>
<line x1="57.80" y1="567.60" x2="57.80" y2="571.00" stroke="#000" stroke-width="1.8" stroke-linecap="butt"/>
<line x1="96.06" y1="567.60" x2="96.06" y2="571.00" stroke="#000" stroke-width="1.8" stroke-linecap="butt"/>
<line x1="134.32" y1="567.60" x2="134.32" y2="571.00" stroke="#000" stroke-width="1.8" stroke-linecap="butt"/>
<line x1="172.58" y1="567.60" x2="172.58" y2="571.00" stroke="#000" stroke-width="1.8" stroke-linecap="butt"/>
<text x="57.80" y="583.40" font-size="8.9" font-weight="bold" text-anchor="middle" fill="#000" >-8</text>
<text x="96.06" y="583.40" font-size="8.9" font-weight="bold" text-anchor="middle" fill="#000" >-6</text>
<text x="134.32" y="583.40" font-size="8.9" font-weight="bold" text-anchor="middle" fill="#000" >-4</text>
<text x="172.58" y="583.40" font-size="8.9" font-weight="bold" text-anchor="middle" fill="#000" >-2</text>
<text x="115.00" y="600.80" font-size="8.9" font-weight="bold" text-anchor="middle" fill="#000" >Log<tspan font-size="5.4" dy="2.8">10</tspan><tspan dy="-2.8"> [compound] M</tspan></text>
<polyline points="57.80,435.55 58.28,435.56 58.76,435.56 59.23,435.57 59.71,435.58 60.19,435.58 60.67,435.59 61.15,435.60 61.63,435.61 62.10,435.62 62.58,435.63 63.06,435.64 63.54,435.65 64.02,435.66 64.50,435.67 64.97,435.68 65.45,435.70 65.93,435.71 66.41,435.72 66.89,435.74 67.36,435.75 67.84,435.77 68.32,435.78 68.80,435.80 69.28,435.81 69.76,435.83 70.23,435.85 70.71,435.87 71.19,435.89 71.67,435.91 72.15,435.94 72.63,435.96 73.10,435.98 73.58,436.01 74.06,436.03 74.54,436.06 75.02,436.09 75.50,436.12 75.97,436.15 76.45,436.18 76.93,436.22 77.41,436.25 77.89,436.29 78.36,436.33 78.84,436.37 79.32,436.41 79.80,436.45 80.28,436.50 80.76,436.55 81.23,436.60 81.71,436.65 82.19,436.70 82.67,436.76 83.15,436.81 83.63,436.88 84.10,436.94 84.58,437.01 85.06,437.07 85.54,437.15 86.02,437.22 86.50,437.30 86.97,437.38 87.45,437.46 87.93,437.55 88.41,437.64 88.89,437.74 89.36,437.84 89.84,437.94 90.32,438.05 90.80,438.17 91.28,438.28 91.76,438.41 92.23,438.53 92.71,438.67 93.19,438.80 93.67,438.95 94.15,439.10 94.63,439.25 95.10,439.41 95.58,439.58 96.06,439.76 96.54,439.94 97.02,440.13 97.49,440.33 97.97,440.53 98.45,440.75 98.93,440.97 99.41,441.20 99.89,441.44 100.36,441.69 100.84,441.95 101.32,442.22 101.80,442.50 102.28,442.79 102.76,443.09 103.23,443.40 103.71,443.73 104.19,444.06 104.67,444.41 105.15,444.77 105.62,445.15 106.10,445.54 106.58,445.94 107.06,446.36 107.54,446.79 108.02,447.24 108.49,447.70 108.97,448.18 109.45,448.67 109.93,449.18 110.41,449.71 110.89,450.26 111.36,450.82 111.84,451.41 112.32,452.01 112.80,452.63 113.28,453.27 113.76,453.93 114.23,454.60 114.71,455.30 115.19,456.02 115.67,456.76 116.15,457.52 116.62,458.30 117.10,459.10 117.58,459.93 118.06,460.77 118.54,461.63 119.02,462.52 119.49,463.43 119.97,464.36 120.45,465.31 120.93,466.28 121.41,467.27 121.89,468.28 122.36,469.31 122.84,470.36 123.32,471.43 123.80,472.51 124.28,473.62 124.75,474.74 125.23,475.88 125.71,477.04 126.19,478.21 126.67,479.40 127.15,480.60 127.62,481.81 128.10,483.04 128.58,484.28 129.06,485.52 129.54,486.78 130.02,488.04 130.49,489.32 130.97,490.59 131.45,491.88 131.93,493.16 132.41,494.45 132.89,495.74 133.36,497.03 133.84,498.32 134.32,499.61 134.80,500.89 135.28,502.17 135.75,503.45 136.23,504.72 136.71,505.98 137.19,507.23 137.67,508.47 138.15,509.70 138.62,510.92 139.10,512.12 139.58,513.32 140.06,514.49 140.54,515.66 141.02,516.80 141.49,517.93 141.97,519.05 142.45,520.14 142.93,521.22 143.41,522.28 143.88,523.31 144.36,524.33 144.84,525.33 145.32,526.31 145.80,527.27 146.28,528.20 146.75,529.12 147.23,530.01 147.71,530.89 148.19,531.74 148.67,532.57 149.15,533.38 149.62,534.17 150.10,534.94 150.58,535.69 151.06,536.41 151.54,537.12 152.02,537.81 152.49,538.47 152.97,539.12 153.45,539.75 153.93,540.36 154.41,540.95 154.88,541.52 155.36,542.07 155.84,542.61 156.32,543.13 156.80,543.63 157.28,544.11 157.75,544.58 158.23,545.03 158.71,545.47 159.19,545.90 159.67,546.30 160.15,546.70 160.62,547.08 161.10,547.45 161.58,547.80 162.06,548.14 162.54,548.47 163.01,548.79 163.49,549.09 163.97,549.39 164.45,549.67 164.93,549.94 165.41,550.21 165.88,550.46 166.36,550.70 166.84,550.94 167.32,551.16 167.80,551.38 168.28,551.59 168.75,551.79 169.23,551.98 169.71,552.17 170.19,552.35 170.67,552.52 171.15,552.68 171.62,552.84 172.10,552.99 172.58,553.14" fill="none" stroke="#8c8c8c" stroke-width="1.0" stroke-linejoin="round" />
<polyline points="57.80,435.43 58.28,435.44 58.76,435.44 59.23,435.44 59.71,435.44 60.19,435.44 60.67,435.45 61.15,435.45 61.63,435.45 62.10,435.45 62.58,435.46 63.06,435.46 63.54,435.46 64.02,435.47 64.50,435.47 64.97,435.47 65.45,435.48 65.93,435.48 66.41,435.49 66.89,435.49 67.36,435.49 67.84,435.50 68.32,435.50 68.80,435.51 69.28,435.52 69.76,435.52 70.23,435.53 70.71,435.54 71.19,435.54 71.67,435.55 72.15,435.56 72.63,435.57 73.10,435.57 73.58,435.58 74.06,435.59 74.54,435.60 75.02,435.61 75.50,435.62 75.97,435.64 76.45,435.65 76.93,435.66 77.41,435.67 77.89,435.69 78.36,435.70 78.84,435.72 79.32,435.74 79.80,435.75 80.28,435.77 80.76,435.79 81.23,435.81 81.71,435.83 82.19,435.85 82.67,435.88 83.15,435.90 83.63,435.93 84.10,435.96 84.58,435.98 85.06,436.02 85.54,436.05 86.02,436.08 86.50,436.12 86.97,436.15 87.45,436.19 87.93,436.23 88.41,436.27 88.89,436.32 89.36,436.37 89.84,436.42 90.32,436.47 90.80,436.52 91.28,436.58 91.76,436.64 92.23,436.71 92.71,436.77 93.19,436.85 93.67,436.92 94.15,437.00 94.63,437.08 95.10,437.16 95.58,437.26 96.06,437.35 96.54,437.45 97.02,437.55 97.49,437.66 97.97,437.78 98.45,437.90 98.93,438.03 99.41,438.16 99.89,438.30 100.36,438.45 100.84,438.60 101.32,438.76 101.80,438.93 102.28,439.11 102.76,439.30 103.23,439.49 103.71,439.70 104.19,439.91 104.67,440.14 105.15,440.38 105.62,440.62 106.10,440.88 106.58,441.15 107.06,441.44 107.54,441.74 108.02,442.05 108.49,442.37 108.97,442.71 109.45,443.07 109.93,443.44 110.41,443.83 110.89,444.24 111.36,444.66 111.84,445.10 112.32,445.56 112.80,446.05 113.28,446.55 113.76,447.07 114.23,447.62 114.71,448.18 115.19,448.78 115.67,449.39 116.15,450.03 116.62,450.69 117.10,451.38 117.58,452.10 118.06,452.84 118.54,453.61 119.02,454.41 119.49,455.24 119.97,456.09 120.45,456.98 120.93,457.89 121.41,458.83 121.89,459.80 122.36,460.81 122.84,461.84 123.32,462.90 123.80,463.99 124.28,465.11 124.75,466.26 125.23,467.44 125.71,468.65 126.19,469.89 126.67,471.15 127.15,472.44 127.62,473.76 128.10,475.10 128.58,476.46 129.06,477.85 129.54,479.26 130.02,480.68 130.49,482.13 130.97,483.59 131.45,485.07 131.93,486.56 132.41,488.06 132.89,489.58 133.36,491.10 133.84,492.63 134.32,494.16 134.80,495.69 135.28,497.23 135.75,498.76 136.23,500.29 136.71,501.81 137.19,503.33 137.67,504.84 138.15,506.34 138.62,507.82 139.10,509.29 139.58,510.74 140.06,512.18 140.54,513.59 141.02,514.99 141.49,516.36 141.97,517.71 142.45,519.03 142.93,520.34 143.41,521.61 143.88,522.86 144.36,524.08 144.84,525.27 145.32,526.43 145.80,527.56 146.28,528.67 146.75,529.74 147.23,530.78 147.71,531.80 148.19,532.78 148.67,533.74 149.15,534.66 149.62,535.56 150.10,536.42 150.58,537.26 151.06,538.07 151.54,538.85 152.02,539.61 152.49,540.33 152.97,541.03 153.45,541.71 153.93,542.36 154.41,542.98 154.88,543.58 155.36,544.16 155.84,544.71 156.32,545.25 156.80,545.76 157.28,546.25 157.75,546.72 158.23,547.17 158.71,547.60 159.19,548.01 159.67,548.41 160.15,548.78 160.62,549.15 161.10,549.49 161.58,549.82 162.06,550.14 162.54,550.44 163.01,550.73 163.49,551.01 163.97,551.27 164.45,551.53 164.93,551.77 165.41,552.00 165.88,552.22 166.36,552.42 166.84,552.62 167.32,552.81 167.80,553.00 168.28,553.17 168.75,553.33 169.23,553.49 169.71,553.64 170.19,553.78 170.67,553.92 171.15,554.05 171.62,554.17 172.10,554.29 172.58,554.40" fill="none" stroke="#0000ff" stroke-width="1.0" stroke-linejoin="round" />
<polyline points="57.80,435.47 58.28,435.48 58.76,435.48 59.23,435.48 59.71,435.49 60.19,435.50 60.67,435.50 61.15,435.51 61.63,435.51 62.10,435.52 62.58,435.53 63.06,435.54 63.54,435.55 64.02,435.55 64.50,435.56 64.97,435.57 65.45,435.59 65.93,435.60 66.41,435.61 66.89,435.62 67.36,435.64 67.84,435.65 68.32,435.67 68.80,435.68 69.28,435.70 69.76,435.72 70.23,435.74 70.71,435.76 71.19,435.78 71.67,435.81 72.15,435.83 72.63,435.86 73.10,435.89 73.58,435.92 74.06,435.95 74.54,435.98 75.02,436.02 75.50,436.06 75.97,436.10 76.45,436.14 76.93,436.19 77.41,436.24 77.89,436.29 78.36,436.34 78.84,436.40 79.32,436.46 79.80,436.53 80.28,436.60 80.76,436.67 81.23,436.75 81.71,436.83 82.19,436.92 82.67,437.02 83.15,437.12 83.63,437.22 84.10,437.33 84.58,437.45 85.06,437.58 85.54,437.71 86.02,437.85 86.50,438.00 86.97,438.16 87.45,438.33 87.93,438.50 88.41,438.69 88.89,438.89 89.36,439.10 89.84,439.33 90.32,439.56 90.80,439.81 91.28,440.08 91.76,440.36 92.23,440.65 92.71,440.96 93.19,441.29 93.67,441.64 94.15,442.01 94.63,442.40 95.10,442.81 95.58,443.24 96.06,443.69 96.54,444.17 97.02,444.68 97.49,445.21 97.97,445.77 98.45,446.35 98.93,446.97 99.41,447.62 99.89,448.30 100.36,449.01 100.84,449.76 101.32,450.55 101.80,451.36 102.28,452.22 102.76,453.12 103.23,454.05 103.71,455.02 104.19,456.04 104.67,457.09 105.15,458.19 105.62,459.33 106.10,460.51 106.58,461.74 107.06,463.01 107.54,464.32 108.02,465.67 108.49,467.06 108.97,468.49 109.45,469.97 109.93,471.48 110.41,473.03 110.89,474.62 111.36,476.24 111.84,477.89 112.32,479.57 112.80,481.28 113.28,483.02 113.76,484.78 114.23,486.55 114.71,488.35 115.19,490.16 115.67,491.98 116.15,493.80 116.62,495.63 117.10,497.46 117.58,499.29 118.06,501.12 118.54,502.93 119.02,504.73 119.49,506.51 119.97,508.28 120.45,510.03 120.93,511.75 121.41,513.44 121.89,515.11 122.36,516.74 122.84,518.34 123.32,519.90 123.80,521.43 124.28,522.92 124.75,524.37 125.23,525.78 125.71,527.15 126.19,528.48 126.67,529.76 127.15,531.00 127.62,532.20 128.10,533.36 128.58,534.47 129.06,535.54 129.54,536.57 130.02,537.57 130.49,538.51 130.97,539.43 131.45,540.30 131.93,541.13 132.41,541.93 132.89,542.69 133.36,543.42 133.84,544.11 134.32,544.77 134.80,545.40 135.28,546.00 135.75,546.57 136.23,547.11 136.71,547.63 137.19,548.12 137.67,548.58 138.15,549.02 138.62,549.44 139.10,549.84 139.58,550.21 140.06,550.57 140.54,550.91 141.02,551.23 141.49,551.53 141.97,551.81 142.45,552.08 142.93,552.34 143.41,552.58 143.88,552.81 144.36,553.03 144.84,553.23 145.32,553.42 145.80,553.60 146.28,553.78 146.75,553.94 147.23,554.09 147.71,554.23 148.19,554.37 148.67,554.50 149.15,554.62 149.62,554.73 150.10,554.84 150.58,554.94 151.06,555.04 151.54,555.13 152.02,555.22 152.49,555.30 152.97,555.37 153.45,555.44 153.93,555.51 154.41,555.57 154.88,555.63 155.36,555.69 155.84,555.74 156.32,555.79 156.80,555.84 157.28,555.88 157.75,555.93 158.23,555.97 158.71,556.00 159.19,556.04 159.67,556.07 160.15,556.10 160.62,556.13 161.10,556.16 161.58,556.18 162.06,556.21 162.54,556.23 163.01,556.25 163.49,556.27 163.97,556.29 164.45,556.31 164.93,556.33 165.41,556.34 165.88,556.36 166.36,556.37 166.84,556.39 167.32,556.40 167.80,556.41 168.28,556.42 168.75,556.43 169.23,556.44 169.71,556.45 170.19,556.46 170.67,556.47 171.15,556.48 171.62,556.48 172.10,556.49 172.58,556.50" fill="none" stroke="#000" stroke-width="1.0" stroke-linejoin="round" />
<polyline points="57.80,435.42 58.28,435.43 58.76,435.43 59.23,435.43 59.71,435.43 60.19,435.44 60.67,435.44 61.15,435.44 61.63,435.45 62.10,435.45 62.58,435.46 63.06,435.46 63.54,435.47 64.02,435.47 64.50,435.48 64.97,435.49 65.45,435.49 65.93,435.50 66.41,435.51 66.89,435.52 67.36,435.53 67.84,435.54 68.32,435.55 68.80,435.57 69.28,435.58 69.76,435.60 70.23,435.61 70.71,435.63 71.19,435.65 71.67,435.67 72.15,435.70 72.63,435.72 73.10,435.75 73.58,435.78 74.06,435.81 74.54,435.85 75.02,435.89 75.50,435.93 75.97,435.98 76.45,436.03 76.93,436.08 77.41,436.14 77.89,436.20 78.36,436.27 78.84,436.35 79.32,436.43 79.80,436.52 80.28,436.62 80.76,436.72 81.23,436.84 81.71,436.96 82.19,437.09 82.67,437.24 83.15,437.40 83.63,437.57 84.10,437.75 84.58,437.95 85.06,438.17 85.54,438.40 86.02,438.66 86.50,438.93 86.97,439.23 87.45,439.55 87.93,439.90 88.41,440.28 88.89,440.68 89.36,441.12 89.84,441.59 90.32,442.10 90.80,442.65 91.28,443.24 91.76,443.88 92.23,444.56 92.71,445.29 93.19,446.08 93.67,446.92 94.15,447.82 94.63,448.78 95.10,449.81 95.58,450.90 96.06,452.06 96.54,453.30 97.02,454.61 97.49,456.00 97.97,457.47 98.45,459.01 98.93,460.64 99.41,462.35 99.89,464.14 100.36,466.01 100.84,467.96 101.32,469.98 101.80,472.08 102.28,474.25 102.76,476.49 103.23,478.78 103.71,481.13 104.19,483.53 104.67,485.98 105.15,488.45 105.62,490.95 106.10,493.47 106.58,496.00 107.06,498.53 107.54,501.05 108.02,503.55 108.49,506.02 108.97,508.47 109.45,510.87 109.93,513.22 110.41,515.51 110.89,517.75 111.36,519.92 111.84,522.02 112.32,524.04 112.80,525.99 113.28,527.86 113.76,529.65 114.23,531.36 114.71,532.99 115.19,534.53 115.67,536.00 116.15,537.39 116.62,538.70 117.10,539.94 117.58,541.10 118.06,542.19 118.54,543.22 119.02,544.18 119.49,545.08 119.97,545.92 120.45,546.71 120.93,547.44 121.41,548.12 121.89,548.76 122.36,549.35 122.84,549.90 123.32,550.41 123.80,550.88 124.28,551.32 124.75,551.72 125.23,552.10 125.71,552.45 126.19,552.77 126.67,553.07 127.15,553.34 127.62,553.60 128.10,553.83 128.58,554.05 129.06,554.25 129.54,554.43 130.02,554.60 130.49,554.76 130.97,554.91 131.45,555.04 131.93,555.16 132.41,555.28 132.89,555.38 133.36,555.48 133.84,555.57 134.32,555.65 134.80,555.73 135.28,555.80 135.75,555.86 136.23,555.92 136.71,555.97 137.19,556.02 137.67,556.07 138.15,556.11 138.62,556.15 139.10,556.19 139.58,556.22 140.06,556.25 140.54,556.28 141.02,556.30 141.49,556.33 141.97,556.35 142.45,556.37 142.93,556.39 143.41,556.40 143.88,556.42 144.36,556.43 144.84,556.45 145.32,556.46 145.80,556.47 146.28,556.48 146.75,556.49 147.23,556.50 147.71,556.51 148.19,556.51 148.67,556.52 149.15,556.53 149.62,556.53 150.10,556.54 150.58,556.54 151.06,556.55 151.54,556.55 152.02,556.56 152.49,556.56 152.97,556.56 153.45,556.57 153.93,556.57 154.41,556.57 154.88,556.57 155.36,556.58 155.84,556.58 156.32,556.58 156.80,556.58 157.28,556.58 157.75,556.58 158.23,556.59 158.71,556.59 159.19,556.59 159.67,556.59 160.15,556.59 160.62,556.59 161.10,556.59 161.58,556.59 162.06,556.59 162.54,556.59 163.01,556.59 163.49,556.59 163.97,556.59 164.45,556.60 164.93,556.60 165.41,556.60 165.88,556.60 166.36,556.60 166.84,556.60 167.32,556.60 167.80,556.60 168.28,556.60 168.75,556.60 169.23,556.60 169.71,556.60 170.19,556.60 170.67,556.60 171.15,556.60 171.62,556.60 172.10,556.60 172.58,556.60" fill="none" stroke="#ff8c1a" stroke-width="1.0" stroke-linejoin="round" />
<polyline points="57.80,439.17 58.28,439.49 58.76,439.83 59.23,440.20 59.71,440.60 60.19,441.03 60.67,441.50 61.15,442.00 61.63,442.54 62.10,443.12 62.58,443.75 63.06,444.42 63.54,445.14 64.02,445.92 64.50,446.75 64.97,447.63 65.45,448.58 65.93,449.60 66.41,450.68 66.89,451.83 67.36,453.05 67.84,454.34 68.32,455.72 68.80,457.17 69.28,458.70 69.76,460.31 70.23,462.00 70.71,463.77 71.19,465.63 71.67,467.56 72.15,469.57 72.63,471.66 73.10,473.81 73.58,476.03 74.06,478.32 74.54,480.66 75.02,483.05 75.50,485.49 75.97,487.95 76.45,490.45 76.93,492.97 77.41,495.49 77.89,498.02 78.36,500.54 78.84,503.05 79.32,505.53 79.80,507.98 80.28,510.39 80.76,512.75 81.23,515.06 81.71,517.31 82.19,519.49 82.67,521.60 83.15,523.64 83.63,525.61 84.10,527.49 84.58,529.30 85.06,531.02 85.54,532.67 86.02,534.23 86.50,535.71 86.97,537.12 87.45,538.44 87.93,539.70 88.41,540.87 88.89,541.98 89.36,543.02 89.84,543.99 90.32,544.91 90.80,545.76 91.28,546.56 91.76,547.30 92.23,547.99 92.71,548.63 93.19,549.23 93.67,549.79 94.15,550.31 94.63,550.79 95.10,551.23 95.58,551.64 96.06,552.03 96.54,552.38 97.02,552.71 97.49,553.01 97.97,553.29 98.45,553.55 98.93,553.79 99.41,554.01 99.89,554.21 100.36,554.40 100.84,554.57 101.32,554.73 101.80,554.88 102.28,555.01 102.76,555.14 103.23,555.26 103.71,555.36 104.19,555.46 104.67,555.55 105.15,555.63 105.62,555.71 106.10,555.78 106.58,555.85 107.06,555.91 107.54,555.96 108.02,556.01 108.49,556.06 108.97,556.10 109.45,556.14 109.93,556.18 110.41,556.21 110.89,556.24 111.36,556.27 111.84,556.30 112.32,556.32 112.80,556.34 113.28,556.36 113.76,556.38 114.23,556.40 114.71,556.42 115.19,556.43 115.67,556.45 116.15,556.46 116.62,556.47 117.10,556.48 117.58,556.49 118.06,556.50 118.54,556.51 119.02,556.51 119.49,556.52 119.97,556.53 120.45,556.53 120.93,556.54 121.41,556.54 121.89,556.55 122.36,556.55 122.84,556.56 123.32,556.56 123.80,556.56 124.28,556.57 124.75,556.57 125.23,556.57 125.71,556.57 126.19,556.58 126.67,556.58 127.15,556.58 127.62,556.58 128.10,556.58 128.58,556.58 129.06,556.59 129.54,556.59 130.02,556.59 130.49,556.59 130.97,556.59 131.45,556.59 131.93,556.59 132.41,556.59 132.89,556.59 133.36,556.59 133.84,556.59 134.32,556.59 134.80,556.59 135.28,556.59 135.75,556.60 136.23,556.60 136.71,556.60 137.19,556.60 137.67,556.60 138.15,556.60 138.62,556.60 139.10,556.60 139.58,556.60 140.06,556.60 140.54,556.60 141.02,556.60 141.49,556.60 141.97,556.60 142.45,556.60 142.93,556.60 143.41,556.60 143.88,556.60 144.36,556.60 144.84,556.60 145.32,556.60 145.80,556.60 146.28,556.60 146.75,556.60 147.23,556.60 147.71,556.60 148.19,556.60 148.67,556.60 149.15,556.60 149.62,556.60 150.10,556.60 150.58,556.60 151.06,556.60 151.54,556.60 152.02,556.60 152.49,556.60 152.97,556.60 153.45,556.60 153.93,556.60 154.41,556.60 154.88,556.60 155.36,556.60 155.84,556.60 156.32,556.60 156.80,556.60 157.28,556.60 157.75,556.60 158.23,556.60 158.71,556.60 159.19,556.60 159.67,556.60 160.15,556.60 160.62,556.60 161.10,556.60 161.58,556.60 162.06,556.60 162.54,556.60 163.01,556.60 163.49,556.60 163.97,556.60 164.45,556.60 164.93,556.60 165.41,556.60 165.88,556.60 166.36,556.60 166.84,556.60 167.32,556.60 167.80,556.60 168.28,556.60 168.75,556.60 169.23,556.60 169.71,556.60 170.19,556.60 170.67,556.60 171.15,556.60 171.62,556.60 172.10,556.60 172.58,556.60" fill="none" stroke="#a01020" stroke-width="1.0" stroke-linejoin="round" />
<line x1="106.39" y1="440.85" x2="106.39" y2="446.91" stroke="#8c8c8c" stroke-width="1.05" stroke-linecap="butt"/>
<line x1="103.79" y1="440.85" x2="108.99" y2="440.85" stroke="#8c8c8c" stroke-width="1.05" stroke-linecap="butt"/>
<line x1="103.79" y1="446.91" x2="108.99" y2="446.91" stroke="#8c8c8c" stroke-width="1.05" stroke-linecap="butt"/>
<rect x="104.09" y="441.58" width="4.6" height="4.6" fill="#8c8c8c"/>
<line x1="115.57" y1="453.58" x2="115.57" y2="463.28" stroke="#8c8c8c" stroke-width="1.05" stroke-linecap="butt"/>
<line x1="112.97" y1="453.58" x2="118.17" y2="453.58" stroke="#8c8c8c" stroke-width="1.05" stroke-linecap="butt"/>
<line x1="112.97" y1="463.28" x2="118.17" y2="463.28" stroke="#8c8c8c" stroke-width="1.05" stroke-linecap="butt"/>
<rect x="113.27" y="456.13" width="4.6" height="4.6" fill="#8c8c8c"/>
<line x1="124.75" y1="474.43" x2="124.75" y2="484.12" stroke="#8c8c8c" stroke-width="1.05" stroke-linecap="butt"/>
<line x1="122.16" y1="474.43" x2="127.35" y2="474.43" stroke="#8c8c8c" stroke-width="1.05" stroke-linecap="butt"/>
<line x1="122.16" y1="484.12" x2="127.35" y2="484.12" stroke="#8c8c8c" stroke-width="1.05" stroke-linecap="butt"/>
<rect x="122.45" y="476.97" width="4.6" height="4.6" fill="#8c8c8c"/>
<line x1="133.94" y1="494.79" x2="133.94" y2="506.91" stroke="#8c8c8c" stroke-width="1.05" stroke-linecap="butt"/>
<line x1="131.34" y1="494.79" x2="136.54" y2="494.79" stroke="#8c8c8c" stroke-width="1.05" stroke-linecap="butt"/>
<line x1="131.34" y1="506.91" x2="136.54" y2="506.91" stroke="#8c8c8c" stroke-width="1.05" stroke-linecap="butt"/>
<rect x="131.64" y="498.55" width="4.6" height="4.6" fill="#8c8c8c"/>
<line x1="143.12" y1="512.00" x2="143.12" y2="523.63" stroke="#8c8c8c" stroke-width="1.05" stroke-linecap="butt"/>
<line x1="140.52" y1="512.00" x2="145.72" y2="512.00" stroke="#8c8c8c" stroke-width="1.05" stroke-linecap="butt"/>
<line x1="140.52" y1="523.63" x2="145.72" y2="523.63" stroke="#8c8c8c" stroke-width="1.05" stroke-linecap="butt"/>
<rect x="140.82" y="515.52" width="4.6" height="4.6" fill="#8c8c8c"/>
<line x1="115.76" y1="442.07" x2="115.76" y2="454.19" stroke="#0000ff" stroke-width="1.05" stroke-linecap="butt"/>
<line x1="113.16" y1="442.07" x2="118.36" y2="442.07" stroke="#0000ff" stroke-width="1.05" stroke-linecap="butt"/>
<line x1="113.16" y1="454.19" x2="118.36" y2="454.19" stroke="#0000ff" stroke-width="1.05" stroke-linecap="butt"/>
<polygon points="115.76,445.73 118.16,448.13 115.76,450.53 113.36,448.13" fill="#0000ff"/>
<line x1="125.33" y1="454.43" x2="125.33" y2="475.03" stroke="#0000ff" stroke-width="1.05" stroke-linecap="butt"/>
<line x1="122.73" y1="454.43" x2="127.93" y2="454.43" stroke="#0000ff" stroke-width="1.05" stroke-linecap="butt"/>
<line x1="122.73" y1="475.03" x2="127.93" y2="475.03" stroke="#0000ff" stroke-width="1.05" stroke-linecap="butt"/>
<polygon points="125.33,462.33 127.73,464.73 125.33,467.13 122.93,464.73" fill="#0000ff"/>
<line x1="134.32" y1="479.03" x2="134.32" y2="505.70" stroke="#0000ff" stroke-width="1.05" stroke-linecap="butt"/>
<line x1="131.72" y1="479.03" x2="136.92" y2="479.03" stroke="#0000ff" stroke-width="1.05" stroke-linecap="butt"/>
<line x1="131.72" y1="505.70" x2="136.92" y2="505.70" stroke="#0000ff" stroke-width="1.05" stroke-linecap="butt"/>
<polygon points="134.32,489.96 136.72,492.36 134.32,494.76 131.92,492.36" fill="#0000ff"/>
<line x1="143.31" y1="510.54" x2="143.31" y2="534.78" stroke="#0000ff" stroke-width="1.05" stroke-linecap="butt"/>
<line x1="140.71" y1="510.54" x2="145.91" y2="510.54" stroke="#0000ff" stroke-width="1.05" stroke-linecap="butt"/>
<line x1="140.71" y1="534.78" x2="145.91" y2="534.78" stroke="#0000ff" stroke-width="1.05" stroke-linecap="butt"/>
<polygon points="143.31,520.26 145.71,522.66 143.31,525.06 140.91,522.66" fill="#0000ff"/>
<line x1="152.68" y1="534.78" x2="152.68" y2="545.69" stroke="#0000ff" stroke-width="1.05" stroke-linecap="butt"/>
<line x1="150.08" y1="534.78" x2="155.28" y2="534.78" stroke="#0000ff" stroke-width="1.05" stroke-linecap="butt"/>
<line x1="150.08" y1="545.69" x2="155.28" y2="545.69" stroke="#0000ff" stroke-width="1.05" stroke-linecap="butt"/>
<polygon points="152.68,537.84 155.08,540.24 152.68,542.64 150.28,540.24" fill="#0000ff"/>
<line x1="88.03" y1="441.58" x2="88.03" y2="444.01" stroke="#000" stroke-width="1.05" stroke-linecap="butt"/>
<line x1="85.43" y1="441.58" x2="90.63" y2="441.58" stroke="#000" stroke-width="1.05" stroke-linecap="butt"/>
<line x1="85.43" y1="444.01" x2="90.63" y2="444.01" stroke="#000" stroke-width="1.05" stroke-linecap="butt"/>
<polygon points="88.03,440.06 90.63,444.74 85.43,444.74" fill="#000"/>
<line x1="97.21" y1="440.49" x2="97.21" y2="444.85" stroke="#000" stroke-width="1.05" stroke-linecap="butt"/>
<line x1="94.61" y1="440.49" x2="99.81" y2="440.49" stroke="#000" stroke-width="1.05" stroke-linecap="butt"/>
<line x1="94.61" y1="444.85" x2="99.81" y2="444.85" stroke="#000" stroke-width="1.05" stroke-linecap="butt"/>
<polygon points="97.21,439.94 99.81,444.62 94.61,444.62" fill="#000"/>
<line x1="106.39" y1="456.61" x2="106.39" y2="462.67" stroke="#000" stroke-width="1.05" stroke-linecap="butt"/>
<line x1="103.79" y1="456.61" x2="108.99" y2="456.61" stroke="#000" stroke-width="1.05" stroke-linecap="butt"/>
<line x1="103.79" y1="462.67" x2="108.99" y2="462.67" stroke="#000" stroke-width="1.05" stroke-linecap="butt"/>
<polygon points="106.39,456.91 108.99,461.59 103.79,461.59" fill="#000"/>
<line x1="115.76" y1="486.91" x2="115.76" y2="495.39" stroke="#000" stroke-width="1.05" stroke-linecap="butt"/>
<line x1="113.16" y1="486.91" x2="118.36" y2="486.91" stroke="#000" stroke-width="1.05" stroke-linecap="butt"/>
<line x1="113.16" y1="495.39" x2="118.36" y2="495.39" stroke="#000" stroke-width="1.05" stroke-linecap="butt"/>
<polygon points="115.76,488.42 118.36,493.10 113.16,493.10" fill="#000"/>
<line x1="124.75" y1="524.00" x2="124.75" y2="532.48" stroke="#000" stroke-width="1.05" stroke-linecap="butt"/>
<line x1="122.16" y1="524.00" x2="127.35" y2="524.00" stroke="#000" stroke-width="1.05" stroke-linecap="butt"/>
<line x1="122.16" y1="532.48" x2="127.35" y2="532.48" stroke="#000" stroke-width="1.05" stroke-linecap="butt"/>
<polygon points="124.75,525.51 127.35,530.19 122.16,530.19" fill="#000"/>
<line x1="133.94" y1="542.30" x2="133.94" y2="548.36" stroke="#000" stroke-width="1.05" stroke-linecap="butt"/>
<line x1="131.34" y1="542.30" x2="136.54" y2="542.30" stroke="#000" stroke-width="1.05" stroke-linecap="butt"/>
<line x1="131.34" y1="548.36" x2="136.54" y2="548.36" stroke="#000" stroke-width="1.05" stroke-linecap="butt"/>
<polygon points="133.94,542.60 136.54,547.28 131.34,547.28" fill="#000"/>
<line x1="97.21" y1="455.28" x2="97.21" y2="463.28" stroke="#ff8c1a" stroke-width="1.05" stroke-linecap="butt"/>
<line x1="94.61" y1="455.28" x2="99.81" y2="455.28" stroke="#ff8c1a" stroke-width="1.05" stroke-linecap="butt"/>
<line x1="94.61" y1="463.28" x2="99.81" y2="463.28" stroke="#ff8c1a" stroke-width="1.05" stroke-linecap="butt"/>
<polygon points="97.21,456.58 99.91,459.28 97.21,461.98 94.51,459.28" fill="#ff8c1a"/>
<line x1="106.58" y1="495.76" x2="106.58" y2="506.67" stroke="#ff8c1a" stroke-width="1.05" stroke-linecap="butt"/>
<line x1="103.98" y1="495.76" x2="109.18" y2="495.76" stroke="#ff8c1a" stroke-width="1.05" stroke-linecap="butt"/>
<line x1="103.98" y1="506.67" x2="109.18" y2="506.67" stroke="#ff8c1a" stroke-width="1.05" stroke-linecap="butt"/>
<polygon points="106.58,498.51 109.28,501.21 106.58,503.91 103.88,501.21" fill="#ff8c1a"/>
<line x1="115.76" y1="541.57" x2="115.76" y2="548.36" stroke="#ff8c1a" stroke-width="1.05" stroke-linecap="butt"/>
<line x1="113.16" y1="541.57" x2="118.36" y2="541.57" stroke="#ff8c1a" stroke-width="1.05" stroke-linecap="butt"/>
<line x1="113.16" y1="548.36" x2="118.36" y2="548.36" stroke="#ff8c1a" stroke-width="1.05" stroke-linecap="butt"/>
<polygon points="115.76,542.26 118.46,544.96 115.76,547.66 113.06,544.96" fill="#ff8c1a"/>
<line x1="124.75" y1="553.21" x2="124.75" y2="555.63" stroke="#ff8c1a" stroke-width="1.05" stroke-linecap="butt"/>
<line x1="122.16" y1="553.21" x2="127.35" y2="553.21" stroke="#ff8c1a" stroke-width="1.05" stroke-linecap="butt"/>
<line x1="122.16" y1="555.63" x2="127.35" y2="555.63" stroke="#ff8c1a" stroke-width="1.05" stroke-linecap="butt"/>
<polygon points="124.75,551.72 127.45,554.42 124.75,557.12 122.05,554.42" fill="#ff8c1a"/>
<line x1="133.94" y1="554.90" x2="133.94" y2="556.12" stroke="#ff8c1a" stroke-width="1.05" stroke-linecap="butt"/>
<line x1="131.34" y1="554.90" x2="136.54" y2="554.90" stroke="#ff8c1a" stroke-width="1.05" stroke-linecap="butt"/>
<line x1="131.34" y1="556.12" x2="136.54" y2="556.12" stroke="#ff8c1a" stroke-width="1.05" stroke-linecap="butt"/>
<polygon points="133.94,552.81 136.64,555.51 133.94,558.21 131.24,555.51" fill="#ff8c1a"/>
<line x1="69.28" y1="451.52" x2="69.28" y2="459.03" stroke="#a01020" stroke-width="1.05" stroke-linecap="butt"/>
<line x1="66.68" y1="451.52" x2="71.88" y2="451.52" stroke="#a01020" stroke-width="1.05" stroke-linecap="butt"/>
<line x1="66.68" y1="459.03" x2="71.88" y2="459.03" stroke="#a01020" stroke-width="1.05" stroke-linecap="butt"/>
<circle cx="69.28" cy="455.28" r="2.5" fill="#a01020" stroke="none" stroke-width="0"/>
<line x1="78.27" y1="500.85" x2="78.27" y2="508.12" stroke="#a01020" stroke-width="1.05" stroke-linecap="butt"/>
<line x1="75.67" y1="500.85" x2="80.87" y2="500.85" stroke="#a01020" stroke-width="1.05" stroke-linecap="butt"/>
<line x1="75.67" y1="508.12" x2="80.87" y2="508.12" stroke="#a01020" stroke-width="1.05" stroke-linecap="butt"/>
<circle cx="78.27" cy="504.48" r="2.5" fill="#a01020" stroke="none" stroke-width="0"/>
<line x1="87.45" y1="536.12" x2="87.45" y2="542.18" stroke="#a01020" stroke-width="1.05" stroke-linecap="butt"/>
<line x1="84.85" y1="536.12" x2="90.05" y2="536.12" stroke="#a01020" stroke-width="1.05" stroke-linecap="butt"/>
<line x1="84.85" y1="542.18" x2="90.05" y2="542.18" stroke="#a01020" stroke-width="1.05" stroke-linecap="butt"/>
<circle cx="87.45" cy="539.15" r="2.5" fill="#a01020" stroke="none" stroke-width="0"/>
<line x1="96.83" y1="551.15" x2="96.83" y2="553.57" stroke="#a01020" stroke-width="1.05" stroke-linecap="butt"/>
<line x1="94.23" y1="551.15" x2="99.43" y2="551.15" stroke="#a01020" stroke-width="1.05" stroke-linecap="butt"/>
<line x1="94.23" y1="553.57" x2="99.43" y2="553.57" stroke="#a01020" stroke-width="1.05" stroke-linecap="butt"/>
<circle cx="96.83" cy="552.36" r="2.5" fill="#a01020" stroke="none" stroke-width="0"/>
<line x1="105.62" y1="553.69" x2="105.62" y2="556.12" stroke="#a01020" stroke-width="1.05" stroke-linecap="butt"/>
<line x1="103.03" y1="553.69" x2="108.22" y2="553.69" stroke="#a01020" stroke-width="1.05" stroke-linecap="butt"/>
<line x1="103.03" y1="556.12" x2="108.22" y2="556.12" stroke="#a01020" stroke-width="1.05" stroke-linecap="butt"/>
<circle cx="105.62" cy="554.90" r="2.5" fill="#a01020" stroke="none" stroke-width="0"/>
<line x1="115.00" y1="553.69" x2="115.00" y2="556.12" stroke="#a01020" stroke-width="1.05" stroke-linecap="butt"/>
<line x1="112.40" y1="553.69" x2="117.60" y2="553.69" stroke="#a01020" stroke-width="1.05" stroke-linecap="butt"/>
<line x1="112.40" y1="556.12" x2="117.60" y2="556.12" stroke="#a01020" stroke-width="1.05" stroke-linecap="butt"/>
<circle cx="115.00" cy="554.90" r="2.5" fill="#a01020" stroke="none" stroke-width="0"/>
<circle cx="156.60" cy="472.70" r="2.5" fill="#a01020" stroke="none" stroke-width="0"/>
<text x="162.60" y="475.90" font-size="8.9" font-weight="bold" text-anchor="start" fill="#000" >Ani9</text>
<polygon points="156.60,478.40 159.60,481.40 156.60,484.40 153.60,481.40" fill="#ff8c1a"/>
<text x="162.60" y="484.90" font-size="8.9" font-weight="bold" text-anchor="start" fill="#000" >Benzbromarone</text>
<polygon points="156.60,487.88 159.10,492.38 154.10,492.38" fill="#000"/>
<text x="162.60" y="493.70" font-size="8.9" font-weight="bold" text-anchor="start" fill="#000" >CaCCinhA01</text>
<rect x="154.80" y="497.00" width="4.0" height="4.0" fill="#8c8c8c"/>
<text x="162.60" y="502.40" font-size="8.9" font-weight="bold" text-anchor="start" fill="#000" >Niflumic acid</text>
<polygon points="156.60,505.80 159.00,508.20 156.60,510.60 154.20,508.20" fill="#0000ff"/>
<text x="162.60" y="511.30" font-size="8.9" font-weight="bold" text-anchor="start" fill="#000" >9AC</text>
</svg>
</body></html>
